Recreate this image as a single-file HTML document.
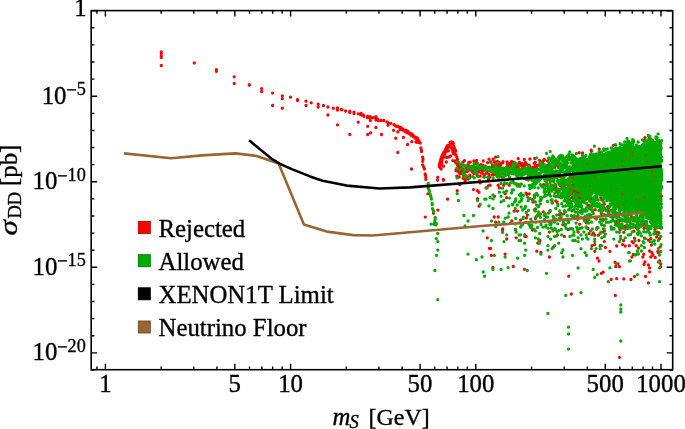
<!DOCTYPE html>
<html><head><meta charset="utf-8"><style>html,body{margin:0;padding:0;background:#fff;}svg{display:block;will-change:transform;}</style></head>
<body><svg width="685" height="429" viewBox="0 0 685 429">
<rect width="685" height="429" fill="#fff"/>
<defs><clipPath id="c"><rect x="91.2" y="10.6" width="581.5" height="359.09999999999997"/></clipPath></defs>
<g clip-path="url(#c)">
<polygon points="572.0,159.0 575.0,159.3 578.0,159.3 581.0,159.0 584.0,158.7 587.0,157.9 590.0,157.0 593.0,156.1 596.0,155.2 599.0,154.4 602.0,153.7 605.0,153.4 608.0,153.1 611.0,149.7 614.0,150.0 617.0,150.3 620.0,150.0 623.0,148.5 626.0,145.3 629.0,144.5 632.0,145.2 635.0,146.1 638.0,147.1 641.0,146.0 644.0,144.5 647.0,142.5 650.0,141.7 653.0,142.2 656.0,141.5 659.0,141.0 661.7,144.0 661.7,144.0 661.7,225.0 660.0,225.0 657.0,223.8 654.0,221.5 651.0,219.2 648.0,217.0 645.0,214.8 642.0,212.5 639.0,210.4 636.0,208.8 633.0,207.9 630.0,207.5 627.0,207.1 624.0,206.6 621.0,206.2 618.0,204.9 615.0,203.2 612.0,201.6 609.0,199.9 606.0,198.3 603.0,196.7 600.0,195.0 597.0,194.4 594.0,193.8 591.0,193.2 588.0,192.8 585.0,192.5 584.0,202.5 581.0,200.7 578.0,198.8 575.0,197.0 572.0,195.2" fill="#00aa00"/>
<path d="M443.5 180.2h0M465.0 180.9h0M479.6 180.6h0M480.2 182.9h0M457.2 190.7h0M447.6 199.2h0M473.5 189.6h0M477.5 190.7h0M479.0 192.2h0M486.0 187.9h0M488.3 185.8h0M490.1 185.2h0M498.2 185.2h0M499.4 187.9h0M503.8 185.2h0M494.5 196.3h0M477.5 198.6h0M479.0 206.2h0M505.2 193.7h0M506.6 197.7h0M494.2 217.0h0M498.2 217.0h0M495.7 222.2h0M502.7 228.9h0M459.8 184.7h0M509.3 185.2h0M487.3 237.8h0M489.5 248.4h0M502.6 230.2h0M506.7 239.0h0M516.2 237.8h0M524.9 236.4h0M526.1 236.4h0M490.6 248.4h0M491.4 255.4h0M505.1 254.1h0M513.3 266.5h0M492.9 267.5h0M524.4 269.3h0M536.8 251.2h0M540.9 252.5h0M539.9 240.5h0M537.8 243.0h0M549.4 232.1h0M557.3 234.9h0M553.2 247.2h0M549.4 257.0h0M564.4 236.4h0M578.1 232.1h0M589.1 233.5h0M593.2 232.9h0M594.7 235.2h0M598.4 235.2h0M603.1 232.1h0M604.3 230.9h0M604.3 241.6h0M592.0 245.7h0M594.7 244.6h0M600.2 245.7h0M605.4 247.5h0M594.7 251.3h0M609.9 251.3h0M597.5 258.2h0M599.0 261.1h0M601.3 273.3h0M603.1 272.2h0M568.7 276.2h0M615.0 262.3h0M615.7 266.5h0M618.0 263.8h0M619.4 266.7h0M616.7 246.0h0M623.5 240.5h0M623.8 232.3h0M622.5 244.6h0M625.2 246.0h0M629.3 245.7h0M611.2 279.5h0M616.7 278.7h0M623.8 278.9h0M571.3 294.0h0M615.3 295.4h0M633.9 231.2h0M634.5 238.2h0M632.1 241.6h0M633.3 242.8h0M636.2 245.7h0M638.9 240.5h0M638.5 248.1h0M633.3 254.5h0M631.9 257.0h0M643.8 254.2h0M642.8 257.0h0M644.4 238.2h0M648.4 240.2h0M650.8 238.7h0M651.3 245.1h0M649.6 251.0h0M651.9 252.7h0M652.9 255.0h0M650.8 257.0h0M655.2 257.4h0M656.6 237.0h0M656.0 233.3h0M657.2 232.1h0M658.9 232.9h0M659.5 238.7h0M660.1 246.9h0M657.8 251.5h0M658.3 252.7h0M644.9 262.0h0M644.0 264.4h0M648.4 264.9h0M649.6 267.9h0M649.6 271.9h0M659.5 260.9h0M660.7 263.8h0M660.7 266.7h0M634.5 276.4h0M645.5 276.4h0M631.0 279.5h0M648.4 282.9h0M619.4 357.3h0M395.0 125.6h0M396.4 126.3h0M397.8 126.3h0M399.2 127.0h0M401.3 127.7h0M402.7 129.1h0M404.8 130.1h0M406.2 130.5h0M407.6 131.2h0M409.0 132.6h0M410.4 133.3h0M411.8 134.0h0M413.2 135.4h0M414.6 136.8h0M416.0 137.5h0M417.4 138.2h0M418.1 139.6h0M418.8 141.0h0M419.5 142.4h0M417.4 142.4h0M420.2 143.1h0M420.9 148.0h0M421.3 150.1h0M421.6 151.5h0M422.6 157.1h0M423.0 159.2h0M422.7 161.3h0M422.7 164.8h0M423.7 166.9h0M424.4 169.0h0M425.1 173.8h0M425.5 175.2h0M425.8 177.3h0M425.8 179.4h0M397.8 131.9h0M395.7 138.2h0M403.4 137.5h0M407.6 144.5h0M411.8 141.7h0M397.8 152.4h0M411.5 169.0h0M437.7 177.3h0M443.3 179.4h0M455.4 150.1h0M456.1 155.0h0M456.8 157.1h0M457.5 159.2h0M458.2 162.0h0M459.6 164.8h0M458.9 168.3h0M461.0 166.2h0M463.1 162.0h0M464.5 160.6h0M462.4 170.3h0M463.8 172.4h0M465.9 167.6h0M468.0 164.8h0M469.4 166.2h0M470.1 169.7h0M472.2 171.7h0M473.6 173.1h0M475.0 170.3h0M476.4 168.3h0M479.2 166.2h0M481.3 164.8h0M482.0 168.3h0M483.4 170.3h0M484.8 166.2h0M487.6 162.7h0M489.0 159.2h0M491.0 162.0h0M492.4 164.8h0M493.1 159.2h0M494.5 162.0h0M495.9 164.8h0M495.2 168.3h0M497.3 161.3h0M498.7 166.2h0M499.4 162.7h0M486.9 171.7h0M489.0 174.5h0M458.2 177.1h0M466.6 176.6h0M470.1 177.3h0M493.8 174.5h0M428.2 187.9h0M427.9 193.8h0M433.5 213.2h0M437.9 210.1h0M425.3 217.1h0M437.5 180.2h0M450.0 142.5h0M451.4 142.0h0M452.8 142.3h0M453.3 143.4h0M451.9 143.9h0M450.5 144.3h0M447.7 145.3h0M446.8 146.7h0M446.3 148.1h0M445.4 149.5h0M444.9 150.9h0M444.0 152.2h0M443.1 153.6h0M442.6 155.0h0M441.7 156.4h0M441.2 158.3h0M440.7 159.7h0M440.3 161.1h0M439.8 163.0h0M439.3 164.8h0M439.3 166.7h0M440.3 168.1h0M441.2 169.0h0M449.1 145.3h0M448.2 147.1h0M447.2 149.0h0M446.8 150.4h0M445.9 151.8h0M444.0 156.0h0M445.4 156.9h0M446.8 157.4h0M448.2 157.2h0M449.6 156.6h0M450.5 156.0h0M446.3 162.0h0M443.5 166.2h0M452.8 160.6h0M453.8 146.2h0M454.2 147.6h0M454.7 149.0h0M455.2 150.4h0M455.6 151.3h0M454.2 152.2h0M452.8 151.8h0M453.3 153.6h0M454.4 154.1h0M561.6 158.4h0M567.4 167.4h0M591.1 150.2h0M645.0 137.7h0M444.9 153.6h0M444.0 154.8h0M443.1 157.4h0M442.1 159.4h0M441.7 163.0h0M441.0 165.0h0M448.6 150.9h0M451.6 148.1h0M452.6 149.9h0M450.0 146.9h0M441.9 161.1h0M440.4 163.0h0M405.5 131.9h0M407.6 132.9h0M409.7 134.0h0M411.5 135.4h0M413.5 136.8h0M415.3 138.2h0M416.7 139.6h0M417.7 141.0h0M418.5 142.1h0M416.0 142.1h0M400.6 129.1h0M402.7 130.1h0M161.3 51.9h0M161.3 53.3h0M161.3 56.0h0M161.3 57.4h0M161.3 65.5h0M194.3 62.9h0M216.4 69.6h0M216.4 71.3h0M234.2 76.8h0M234.2 83.5h0M249.3 84.6h0M249.3 85.2h0M261.6 88.6h0M261.6 91.5h0M272.6 93.1h0M272.6 105.4h0M282.3 95.8h0M282.3 98.7h0M282.3 108.2h0M290.5 97.2h0M297.5 99.7h0M297.5 100.4h0M306.0 101.2h0M306.0 105.5h0M311.2 102.8h0M318.2 104.1h0M318.2 107.0h0M323.5 105.5h0M327.9 107.0h0M327.9 115.0h0M333.3 108.2h0M337.5 108.0h0M337.5 110.0h0M337.5 124.8h0M341.4 109.3h0M341.9 109.8h0M345.6 111.0h0M349.8 111.2h0M349.8 112.6h0M354.0 112.1h0M354.0 113.5h0M358.2 113.8h0M361.0 113.5h0M361.0 114.9h0M363.3 114.9h0M363.8 116.3h0M367.5 116.3h0M367.5 117.7h0M370.3 116.6h0M370.3 118.2h0M373.1 117.7h0M375.9 116.6h0M375.9 118.2h0M375.9 120.0h0M377.7 119.1h0M378.2 120.5h0M381.0 120.5h0M383.8 120.5h0M387.0 121.9h0M388.0 122.8h0M390.8 123.3h0M388.0 125.2h0M358.2 122.2h0M370.3 120.5h0M367.7 126.3h0M375.9 127.5h0M349.8 134.5h0M367.7 134.5h0M370.6 132.8h0M381.5 134.5h0M393.6 130.3h0M394.0 124.7h0M400.0 129.5h0M405.0 131.5h0M410.0 134.0h0M414.0 136.5h0M417.0 139.5h0M419.0 141.0h0M398.0 126.5h0M402.0 128.5h0M462.8 170.5h0M543.3 211.8h0M587.9 164.1h0M651.5 174.8h0M459.7 173.5h0M638.9 225.6h0M555.9 186.9h0M536.6 166.9h0M476.1 163.2h0M599.8 152.4h0M458.9 171.2h0M619.0 227.0h0M519.4 162.4h0M473.7 166.9h0M599.2 149.1h0M518.3 184.6h0M650.7 182.7h0M473.9 160.9h0M564.0 164.6h0M631.5 216.7h0M632.9 227.1h0M587.3 198.4h0M564.1 186.2h0M654.8 199.0h0M558.6 195.8h0M623.9 205.5h0M629.8 221.0h0M579.7 193.4h0M638.6 173.4h0M622.4 226.5h0M481.7 170.2h0M607.6 206.7h0M560.2 158.5h0M455.5 162.3h0M640.0 207.2h0M644.4 140.2h0M648.2 161.2h0M601.3 213.6h0M559.1 191.4h0M512.1 167.0h0M591.4 151.3h0M484.0 176.8h0M526.7 179.5h0M625.3 226.2h0M561.8 180.7h0M545.1 178.0h0M516.1 167.7h0M552.5 157.6h0M561.6 165.2h0M535.7 171.2h0M582.5 209.7h0M535.2 167.3h0M607.7 199.8h0M518.0 165.0h0M587.6 182.1h0M522.5 174.2h0M547.2 184.2h0M526.4 217.9h0M565.2 184.3h0M471.7 167.8h0M575.0 165.7h0M466.9 168.5h0M638.4 227.9h0M503.2 170.2h0M480.1 176.2h0M535.5 165.5h0M619.8 189.9h0M570.6 178.7h0M633.2 152.0h0M643.4 197.0h0M507.2 162.0h0M640.4 201.5h0M587.5 206.8h0M601.4 189.3h0M580.5 211.5h0M469.8 175.2h0M494.5 167.3h0M646.3 200.9h0M572.2 178.3h0M623.9 213.3h0M627.7 207.5h0M626.4 191.6h0M568.5 155.6h0M627.6 210.2h0M579.4 198.0h0M622.0 195.4h0M577.1 194.4h0M500.6 165.3h0M503.0 171.2h0M659.7 175.6h0M593.0 205.5h0M605.9 153.6h0M543.6 160.5h0M510.3 163.4h0M620.7 148.8h0M651.4 171.5h0M610.6 215.2h0M661.4 196.2h0M534.2 195.5h0M601.4 207.0h0M459.2 166.0h0M596.4 190.6h0M535.5 209.0h0M473.9 173.5h0M530.1 167.2h0M533.0 202.0h0M531.6 178.5h0M569.8 188.2h0M540.7 178.5h0M537.2 177.6h0M510.6 166.5h0M510.3 166.9h0M457.6 165.3h0M533.1 176.7h0M616.0 223.2h0M586.7 163.4h0M658.7 184.1h0M464.1 176.1h0M624.0 156.6h0M622.3 227.7h0M659.2 204.1h0M489.3 167.3h0M654.4 148.3h0M634.2 217.6h0M611.9 187.9h0M462.6 170.3h0M608.0 198.5h0M586.5 222.9h0M459.2 176.9h0M529.9 159.0h0M584.0 164.7h0M650.6 171.9h0M552.8 180.9h0M559.0 180.7h0M497.9 163.7h0M654.2 181.1h0M641.5 184.0h0M579.1 193.5h0M635.1 199.0h0M557.4 165.3h0M507.9 168.1h0M515.5 229.4h0M621.9 149.4h0M570.9 169.1h0M608.0 153.2h0M568.3 196.5h0M618.5 206.5h0M507.8 174.7h0M517.4 211.1h0M656.0 193.6h0M564.4 180.2h0M532.5 230.0h0M589.8 206.5h0M482.3 173.2h0M576.1 176.1h0M564.9 180.4h0M537.5 215.1h0M595.3 218.0h0M482.8 170.3h0M642.6 198.2h0M608.3 208.4h0M604.5 204.1h0M570.3 206.2h0M567.4 172.8h0M486.4 167.1h0M613.4 145.3h0M638.8 203.7h0M484.3 174.8h0M508.4 167.4h0M514.3 162.3h0M511.4 165.1h0M459.4 167.0h0M588.0 228.4h0M608.4 197.0h0M650.7 222.1h0M509.3 167.2h0M625.1 221.0h0M628.4 157.7h0M566.0 182.8h0M618.5 216.6h0M479.7 168.5h0M600.8 197.8h0M584.0 218.9h0M577.5 188.5h0M589.4 205.3h0M576.0 168.7h0M546.8 179.6h0M526.0 193.2h0M477.0 175.0h0M539.1 165.2h0M623.3 165.4h0M564.5 224.8h0M455.2 160.9h0M484.3 175.5h0M591.3 202.0h0M610.2 191.6h0M619.2 206.8h0M640.2 187.7h0M603.1 220.1h0M556.8 177.7h0M577.9 191.3h0M534.2 172.3h0M617.3 172.0h0M622.2 219.2h0M578.0 206.4h0M653.9 191.7h0M556.5 164.1h0M490.5 170.8h0M455.8 162.3h0M460.3 169.9h0M559.0 174.8h0M489.8 177.1h0M574.4 189.9h0M468.2 178.9h0M564.3 188.5h0M567.9 229.5h0M629.9 213.6h0M480.7 164.7h0M608.1 215.1h0M652.9 177.3h0M648.7 216.5h0M595.2 209.7h0M481.8 167.5h0M465.8 176.0h0M630.4 226.9h0M651.7 219.4h0M614.5 192.0h0M631.7 213.8h0M575.0 191.7h0M601.7 199.9h0M653.3 175.0h0M531.6 168.4h0M498.1 176.8h0M467.4 168.3h0M553.7 185.5h0M620.6 148.4h0M594.5 200.5h0M644.3 223.9h0M654.8 142.1h0M540.8 200.0h0M511.2 165.4h0M477.9 167.1h0M472.7 171.0h0M494.6 173.4h0M518.2 158.7h0M478.8 171.9h0M522.9 172.7h0M486.6 173.0h0M623.7 201.5h0M499.4 174.1h0M481.8 173.2h0M479.5 169.6h0M626.6 150.9h0M564.3 176.6h0M573.9 188.3h0M532.9 171.0h0M599.2 189.7h0M623.1 170.0h0M484.3 166.3h0M511.8 220.8h0M588.0 195.9h0M590.5 185.7h0M616.5 190.5h0M519.0 170.1h0M466.3 167.5h0M570.3 176.8h0M555.1 184.3h0M476.7 160.5h0M476.9 173.1h0M514.3 169.3h0M658.4 207.5h0M618.8 170.2h0M477.1 168.5h0M456.7 163.5h0M660.3 182.4h0M649.1 205.1h0M512.5 166.6h0M648.4 145.3h0M524.6 164.3h0M552.1 188.2h0M568.2 179.0h0M539.9 164.7h0M563.5 213.9h0M620.5 227.5h0M457.3 162.0h0M617.0 195.2h0M570.6 180.5h0M567.9 184.3h0M512.7 162.5h0M648.9 226.3h0M636.1 227.4h0M574.0 196.4h0M597.9 179.2h0M554.8 167.2h0M570.0 181.5h0M588.1 205.5h0M599.9 158.6h0M652.6 177.8h0M560.6 185.9h0M509.4 177.4h0M588.6 181.0h0M553.4 189.1h0M482.6 170.1h0M570.0 228.9h0M464.8 172.1h0M528.7 174.4h0M570.4 190.3h0M493.6 172.2h0M648.9 216.9h0M635.8 176.8h0M632.4 166.1h0M597.0 227.7h0M605.1 179.5h0M547.4 160.8h0M532.5 171.5h0M627.5 228.3h0M604.0 204.1h0M523.0 164.4h0M621.7 184.9h0M458.3 168.9h0M556.9 191.9h0M462.9 168.9h0M638.6 167.0h0M534.7 158.5h0M638.5 220.7h0M637.7 172.7h0M650.8 190.8h0M653.4 162.7h0M617.7 190.3h0M644.0 228.3h0M522.7 167.7h0M561.1 181.6h0M646.0 181.6h0M582.6 153.0h0M606.4 165.9h0M577.1 216.7h0M534.8 172.1h0M543.6 184.7h0M503.1 161.6h0M521.1 165.4h0M630.8 159.5h0M620.2 220.9h0M572.3 197.5h0M457.5 164.2h0M624.2 205.5h0M635.3 147.9h0M573.5 192.7h0M560.6 213.2h0M535.5 176.3h0M458.6 169.9h0M522.4 224.4h0M557.3 189.5h0M643.3 154.7h0M526.8 164.3h0M566.7 188.7h0M514.1 211.1h0M528.3 169.0h0M475.6 163.4h0M651.8 215.8h0M487.8 167.9h0M586.8 220.5h0M574.7 187.4h0M507.4 164.5h0M659.0 168.0h0M577.3 187.6h0M516.6 165.3h0M647.8 159.5h0M468.8 162.4h0M554.0 188.9h0M511.6 161.5h0M645.4 156.4h0M496.3 173.8h0M614.9 216.2h0M583.2 201.2h0M469.6 168.4h0M529.2 193.8h0M616.1 221.1h0M642.0 181.5h0M521.1 164.7h0M630.5 199.1h0M457.5 171.0h0M501.8 177.1h0M465.5 179.6h0M574.7 199.3h0M613.5 173.8h0M618.8 158.9h0M590.2 181.6h0M477.4 170.6h0M529.2 165.2h0M571.9 210.8h0M571.5 167.9h0M557.3 175.0h0M617.9 196.4h0M533.4 167.5h0M579.2 152.7h0M488.5 179.0h0M461.5 173.7h0M553.6 221.1h0M468.4 177.8h0M512.0 163.6h0M520.6 220.1h0M531.7 174.3h0M535.3 162.5h0M634.3 191.1h0M482.7 165.1h0M549.1 193.0h0M562.1 186.5h0M537.4 165.5h0M488.9 176.6h0M570.2 202.4h0M605.3 186.0h0M584.3 193.4h0M571.2 175.8h0M527.4 215.1h0M538.0 176.4h0M468.0 170.5h0M559.7 156.7h0M628.2 213.2h0M549.6 178.2h0M631.8 191.8h0M551.3 159.3h0M525.4 162.5h0M569.4 198.9h0M648.4 226.9h0M470.3 162.1h0M632.4 159.2h0M657.8 167.1h0M648.4 216.0h0M632.3 173.2h0M602.4 180.4h0M523.2 168.2h0M641.8 205.8h0M528.1 171.9h0M463.1 178.3h0M607.0 187.2h0M551.1 166.4h0M557.2 196.2h0M594.2 189.2h0M547.7 165.2h0M608.9 192.1h0M576.5 205.4h0M512.7 163.3h0M536.0 170.0h0M491.6 167.9h0M569.8 178.8h0M606.7 167.3h0M508.1 174.4h0M553.8 219.3h0M637.9 223.3h0M567.1 195.7h0M522.0 163.4h0M633.2 156.7h0M660.6 213.7h0M526.0 222.3h0M574.8 174.3h0M483.4 170.5h0M641.4 224.0h0M621.9 169.6h0M630.5 201.1h0M460.4 172.2h0M563.0 180.4h0M504.2 173.4h0M539.8 165.1h0M502.8 162.8h0M641.1 224.3h0M568.0 195.3h0M549.5 174.4h0M542.6 162.5h0M514.8 164.1h0M606.0 158.0h0M605.1 161.7h0M492.4 166.0h0M523.9 167.0h0M608.7 211.5h0M571.6 180.1h0M473.0 168.4h0M527.0 194.4h0M517.4 171.9h0M573.7 198.2h0M555.8 200.9h0M654.1 220.0h0M658.7 147.0h0M646.4 185.2h0M585.2 173.0h0M642.9 225.2h0M573.1 177.1h0M603.0 210.2h0M494.9 170.6h0M645.0 227.8h0M589.2 208.4h0M514.0 163.5h0M584.6 157.3h0M475.6 168.1h0M501.0 163.4h0M620.0 229.7h0M627.1 226.8h0M613.7 228.3h0M636.8 193.1h0M624.3 227.9h0M579.6 224.2h0M552.2 202.4h0M566.1 188.1h0M590.8 198.5h0M517.5 164.5h0M637.5 158.6h0M603.4 219.5h0M580.4 180.6h0M495.6 157.1h0M649.2 138.2h0M622.5 161.7h0M544.3 159.5h0M482.9 165.2h0M634.8 194.2h0M595.0 197.9h0M549.8 176.9h0M627.7 199.9h0M595.3 176.3h0M651.4 144.6h0M616.3 180.1h0M559.2 214.6h0M593.0 171.3h0M648.9 212.6h0M584.2 217.6h0M532.4 199.6h0M562.6 183.8h0M550.2 210.7h0M541.6 162.0h0M562.5 176.4h0M625.4 209.9h0M561.4 169.8h0M455.9 170.5h0M573.2 157.5h0M495.1 166.0h0M553.3 157.2h0M518.5 168.0h0M574.3 174.8h0M551.0 169.1h0M633.4 141.0h0M659.3 156.7h0M467.3 171.5h0M456.9 176.2h0M517.9 174.5h0M508.0 164.0h0M538.2 206.0h0M576.6 183.4h0M511.8 165.0h0M546.3 216.8h0M660.3 141.8h0M492.4 174.7h0M534.2 163.2h0M617.8 203.6h0M535.4 218.4h0M549.7 180.3h0M524.2 166.5h0M572.3 185.1h0M601.7 224.8h0M560.9 217.6h0M557.0 202.0h0M619.9 170.1h0M538.1 176.0h0M641.3 199.5h0M562.9 224.7h0M524.3 159.4h0M558.9 158.0h0M625.9 210.0h0M483.2 160.9h0M510.6 164.3h0M528.6 179.5h0M654.9 229.4h0M545.4 166.9h0M631.0 145.5h0M559.8 176.6h0M533.9 168.2h0M549.5 222.0h0M660.7 227.9h0M571.2 204.3h0M539.5 160.3h0M470.7 168.7h0M558.5 191.9h0M531.7 174.4h0" stroke="#ff0000" stroke-width="3.3" stroke-linecap="round" fill="none"/>
<path d="M457.2 193.7h0M458.4 200.4h0M477.5 200.4h0M480.2 204.5h0M484.8 199.2h0M486.0 199.2h0M487.2 187.9h0M490.1 197.5h0M493.0 194.9h0M493.0 198.9h0M488.9 205.9h0M493.0 208.5h0M463.9 215.5h0M473.5 215.5h0M468.0 221.0h0M491.5 221.0h0M498.8 222.2h0M503.8 222.2h0M505.2 218.2h0M508.1 217.0h0M509.0 213.2h0M508.7 205.9h0M495.7 226.6h0M465.0 226.0h0M501.1 183.5h0M504.6 182.9h0M507.0 183.5h0M502.5 188.2h0M499.4 192.2h0M501.1 196.3h0M503.8 192.2h0M506.6 191.1h0M501.1 201.9h0M503.8 200.4h0M509.5 198.1h0M437.7 233.5h0M436.3 238.7h0M437.8 241.6h0M437.8 250.1h0M436.5 255.4h0M434.9 270.5h0M468.0 254.1h0M476.4 259.7h0M482.0 257.0h0M483.1 230.9h0M483.2 271.9h0M484.6 276.2h0M437.7 299.6h0M502.6 232.3h0M506.7 234.9h0M491.4 240.5h0M504.0 241.6h0M516.2 232.1h0M519.1 234.9h0M520.5 234.9h0M519.1 240.5h0M520.5 240.5h0M524.6 234.7h0M524.6 243.2h0M525.8 250.1h0M524.6 255.4h0M517.6 258.2h0M494.4 255.4h0M505.1 257.0h0M492.9 269.4h0M501.1 269.4h0M508.1 267.6h0M527.3 270.5h0M535.4 230.9h0M539.7 233.5h0M535.4 237.8h0M538.3 239.0h0M539.5 243.2h0M540.9 254.2h0M547.9 236.4h0M550.6 239.1h0M554.6 236.4h0M556.4 236.1h0M547.9 245.7h0M547.9 250.1h0M552.1 248.6h0M554.6 245.7h0M558.7 243.2h0M546.5 273.3h0M552.9 230.9h0M557.0 231.7h0M558.7 230.6h0M547.9 313.4h0M561.7 234.9h0M574.0 232.1h0M569.9 236.4h0M572.8 235.2h0M574.0 235.2h0M581.0 234.9h0M578.1 237.8h0M572.8 240.5h0M575.1 240.5h0M578.1 241.6h0M582.4 239.1h0M583.9 232.1h0M586.2 234.9h0M586.6 237.8h0M588.0 239.1h0M590.5 230.9h0M592.0 234.9h0M594.7 239.1h0M594.7 241.6h0M600.8 232.1h0M600.2 233.5h0M601.7 237.8h0M604.3 236.4h0M605.4 234.1h0M591.4 248.6h0M596.1 248.6h0M600.2 248.6h0M601.6 245.7h0M581.0 248.6h0M562.9 250.0h0M561.7 252.7h0M562.9 257.0h0M572.6 255.4h0M585.0 252.7h0M586.6 255.4h0M578.1 267.9h0M593.2 269.4h0M597.3 274.6h0M594.7 277.4h0M609.9 267.9h0M616.7 263.8h0M613.8 239.1h0M616.7 232.1h0M619.4 232.3h0M620.6 236.4h0M620.6 239.1h0M619.4 241.6h0M625.2 237.8h0M628.1 234.9h0M629.3 234.9h0M628.7 252.7h0M629.3 261.1h0M565.8 295.4h0M581.0 292.6h0M608.3 281.7h0M620.8 305.0h0M620.8 309.1h0M620.8 312.0h0M568.5 327.2h0M630.4 260.9h0M629.2 252.7h0M635.0 255.0h0M636.2 254.5h0M637.4 251.0h0M638.5 253.9h0M641.4 251.0h0M641.4 245.7h0M644.4 247.5h0M643.2 241.6h0M643.8 242.8h0M635.0 240.5h0M638.0 234.7h0M637.4 233.3h0M639.1 231.7h0M641.4 235.8h0M640.3 232.9h0M643.8 231.7h0M646.1 232.1h0M648.4 231.2h0M650.2 235.2h0M649.6 232.9h0M645.5 238.7h0M650.2 241.6h0M651.9 242.2h0M654.3 240.5h0M654.8 244.0h0M653.7 234.1h0M654.8 231.7h0M657.8 234.7h0M660.7 236.4h0M661.2 244.6h0M658.3 240.5h0M658.3 248.6h0M660.7 251.5h0M659.5 255.0h0M658.3 262.0h0M659.5 267.9h0M637.4 274.6h0M630.4 234.7h0M632.1 232.1h0M659.5 281.7h0M568.5 334.0h0M568.5 349.1h0M620.8 341.0h0M457.5 162.0h0M460.3 164.8h0M462.4 164.8h0M464.5 165.5h0M466.6 166.2h0M468.7 167.6h0M470.8 166.2h0M473.6 166.2h0M475.7 166.9h0M477.8 166.2h0M479.9 167.6h0M482.0 166.2h0M484.8 168.3h0M487.6 167.6h0M490.3 168.3h0M492.4 169.0h0M495.2 170.3h0M497.3 169.7h0M499.4 168.3h0M462.4 168.3h0M464.5 170.3h0M463.1 173.1h0M464.5 175.2h0M468.0 169.7h0M471.5 168.3h0M474.3 169.0h0M476.4 170.3h0M479.2 169.0h0M483.4 169.0h0M486.2 169.7h0M489.0 171.0h0M491.7 171.7h0M494.5 172.4h0M497.3 172.4h0M472.9 176.6h0M477.8 176.6h0M498.0 156.6h0M490.3 162.0h0M495.2 166.2h0M484.1 177.3h0M487.6 177.3h0M493.1 178.0h0M498.7 177.3h0M428.2 183.5h0M428.8 189.3h0M429.4 191.1h0M430.0 194.0h0M430.5 195.7h0M431.1 197.5h0M431.4 199.2h0M432.1 203.3h0M432.3 204.5h0M432.5 208.6h0M433.2 210.3h0M433.7 211.5h0M435.2 217.3h0M435.2 219.0h0M434.9 220.8h0M434.6 222.5h0M431.1 224.1h0M434.0 224.3h0M435.8 224.9h0M436.4 223.7h0M594.3 146.2h0M627.0 138.3h0M633.1 139.9h0M648.3 135.5h0M658.1 133.9h0M569.8 151.9h0M576.4 153.5h0M566.5 163.4h0M537.5 227.5h0M596.5 169.9h0M637.1 157.9h0M626.0 154.9h0M536.3 216.5h0M634.7 154.2h0M542.1 163.8h0M598.6 179.1h0M661.6 173.9h0M627.4 142.0h0M660.5 225.3h0M642.3 213.2h0M611.0 175.2h0M643.2 209.7h0M658.9 194.0h0M656.9 193.2h0M644.3 162.1h0M605.8 183.4h0M570.5 207.3h0M615.6 178.3h0M644.8 171.5h0M561.5 197.7h0M637.3 223.9h0M651.2 213.2h0M638.6 226.6h0M628.1 142.0h0M521.3 200.8h0M646.2 184.9h0M647.7 153.1h0M613.0 155.4h0M607.5 182.9h0M602.0 191.8h0M636.1 195.4h0M516.0 173.2h0M657.3 182.4h0M553.7 177.8h0M576.8 180.6h0M605.6 192.5h0M640.5 190.9h0M628.9 183.6h0M596.6 176.4h0M610.6 177.8h0M534.6 175.3h0M583.3 192.5h0M595.5 155.5h0M651.7 147.1h0M515.3 164.1h0M577.5 162.9h0M607.3 172.3h0M591.4 156.6h0M639.5 203.7h0M506.7 167.0h0M650.8 200.8h0M550.1 182.9h0M589.3 156.9h0M620.8 202.6h0M501.5 168.8h0M485.4 166.3h0M648.8 159.6h0M593.2 164.8h0M626.0 170.4h0M530.8 219.2h0M641.9 160.6h0M581.3 159.4h0M660.5 152.8h0M503.7 168.8h0M575.3 159.3h0M620.4 182.5h0M599.6 168.0h0M653.3 157.8h0M532.1 178.0h0M563.4 222.2h0M627.5 144.2h0M562.7 165.3h0M605.8 219.2h0M579.7 182.8h0M542.4 186.2h0M547.9 171.0h0M613.8 206.9h0M596.4 219.0h0M659.7 186.5h0M584.8 174.9h0M636.2 207.1h0M572.0 161.8h0M649.9 202.0h0M650.7 139.9h0M630.6 203.2h0M619.0 179.9h0M651.5 203.3h0M643.8 191.2h0M605.7 184.9h0M626.6 191.3h0M632.1 189.9h0M601.6 181.5h0M600.5 177.3h0M529.0 167.1h0M503.6 173.4h0M611.6 192.9h0M592.7 202.9h0M615.9 185.8h0M639.1 150.0h0M659.6 208.5h0M580.6 167.5h0M588.4 172.7h0M603.3 191.1h0M549.7 190.3h0M648.5 144.2h0M650.6 179.5h0M567.5 200.3h0M627.4 179.8h0M536.6 205.1h0M623.4 191.6h0M624.8 174.2h0M517.8 175.4h0M643.1 208.1h0M638.6 183.3h0M567.2 215.6h0M629.8 164.4h0M555.8 219.2h0M531.2 174.8h0M498.8 170.7h0M539.0 177.9h0M639.2 182.3h0M646.7 188.9h0M644.2 189.2h0M599.9 187.6h0M593.7 173.1h0M517.8 169.3h0M588.5 223.1h0M659.0 174.9h0M585.8 199.5h0M634.1 176.1h0M651.5 207.4h0M601.3 211.9h0M658.3 212.3h0M623.0 154.7h0M570.2 208.7h0M648.8 149.6h0M619.7 173.3h0M615.6 149.5h0M639.1 179.8h0M586.6 207.7h0M661.0 215.9h0M652.0 220.5h0M654.5 152.0h0M653.9 195.3h0M661.3 148.3h0M618.6 199.5h0M635.3 218.3h0M630.2 191.0h0M626.2 175.1h0M603.5 183.1h0M510.4 168.2h0M629.6 160.1h0M641.2 195.2h0M581.6 177.0h0M539.9 200.8h0M628.0 163.5h0M563.1 171.8h0M656.2 148.5h0M578.1 215.4h0M506.9 169.3h0M653.9 178.9h0M629.7 189.0h0M570.8 176.6h0M602.4 221.0h0M636.5 188.8h0M536.3 183.3h0M618.7 214.2h0M629.3 225.7h0M562.6 196.9h0M595.7 180.2h0M658.5 211.7h0M661.0 218.3h0M586.1 188.3h0M558.6 183.1h0M615.3 158.9h0M576.1 161.6h0M624.7 156.9h0M619.9 150.6h0M515.5 184.0h0M626.8 161.9h0M652.8 178.0h0M577.2 163.6h0M591.8 184.6h0M632.0 158.7h0M571.9 163.0h0M604.1 154.6h0M593.0 161.9h0M629.6 184.9h0M616.5 155.1h0M599.5 166.3h0M585.6 172.5h0M622.6 152.4h0M529.4 168.2h0M569.0 204.9h0M579.5 173.4h0M661.4 203.8h0M658.9 184.2h0M646.3 192.7h0M616.1 213.2h0M627.7 202.9h0M626.7 158.6h0M517.3 186.0h0M562.0 169.2h0M583.9 210.2h0M653.2 175.5h0M596.2 172.0h0M634.3 151.6h0M634.6 182.8h0M627.7 166.2h0M572.1 206.4h0M647.5 195.9h0M625.2 196.3h0M575.5 160.0h0M616.1 191.5h0M650.2 196.5h0M608.8 178.4h0M569.6 167.6h0M549.3 171.8h0M646.6 186.3h0M655.3 188.1h0M637.1 160.8h0M647.0 147.3h0M590.0 167.6h0M508.5 173.7h0M572.3 228.7h0M605.6 159.6h0M570.4 194.0h0M609.1 152.1h0M658.3 172.6h0M650.7 138.8h0M591.3 206.3h0M559.4 183.3h0M646.7 142.0h0M558.8 191.8h0M538.6 215.7h0M635.8 153.1h0M579.3 172.6h0M619.8 197.4h0M656.2 217.7h0M560.8 167.9h0M590.8 182.1h0M659.3 216.8h0M582.1 164.6h0M618.1 220.4h0M520.6 227.0h0M632.5 178.6h0M609.6 164.8h0M605.1 179.8h0M565.0 180.0h0M626.0 173.3h0M641.0 216.1h0M628.1 210.9h0M596.5 163.5h0M587.3 215.2h0M623.7 162.0h0M603.1 164.1h0M533.9 180.2h0M578.3 173.6h0M626.5 195.4h0M611.7 184.3h0M602.9 175.7h0M624.9 216.6h0M660.6 153.8h0M566.7 164.2h0M572.5 159.0h0M547.5 217.2h0M652.8 168.5h0M628.9 155.8h0M521.3 183.9h0M544.4 196.3h0M579.3 181.8h0M524.3 172.2h0M575.2 162.1h0M636.7 175.4h0M558.2 181.3h0M560.4 163.5h0M559.4 218.5h0M515.7 218.5h0M618.1 199.6h0M579.6 228.2h0M598.9 210.5h0M551.1 221.7h0M540.7 167.7h0M607.6 196.3h0M643.9 203.9h0M655.9 195.6h0M618.2 216.4h0M565.6 224.3h0M626.8 167.7h0M628.9 160.7h0M592.5 209.7h0M654.2 163.0h0M634.3 179.0h0M640.9 195.0h0M592.5 191.4h0M530.7 227.5h0M597.2 183.5h0M653.2 218.6h0M598.7 154.1h0M626.8 208.3h0M655.1 144.7h0M612.5 174.4h0M611.5 153.9h0M611.8 196.2h0M598.9 206.3h0M609.4 160.9h0M636.3 180.8h0M632.2 195.1h0M619.0 213.0h0M590.0 217.3h0M529.8 198.4h0M585.9 160.7h0M623.2 181.4h0M605.7 186.4h0M597.0 199.4h0M608.1 179.2h0M634.6 200.8h0M644.6 208.4h0M639.9 181.1h0M496.6 172.9h0M602.1 171.2h0M595.0 199.9h0M598.9 174.5h0M648.6 148.1h0M657.4 199.5h0M658.1 182.3h0M579.5 179.6h0M629.1 200.3h0M626.7 157.9h0M565.4 193.2h0M660.9 143.5h0M655.6 192.5h0M547.5 201.5h0M526.2 212.4h0M618.9 151.4h0M620.6 155.0h0M553.1 216.3h0M629.0 149.7h0M651.3 180.1h0M634.9 147.3h0M647.2 173.4h0M549.2 158.4h0M590.8 179.0h0M609.0 181.4h0M580.8 193.4h0M652.3 149.5h0M654.9 158.8h0M656.1 216.4h0M655.2 145.2h0M599.0 151.8h0M564.0 196.1h0M584.8 174.5h0M602.5 193.0h0M618.4 149.5h0M642.2 149.4h0M539.5 169.2h0M651.0 185.6h0M628.8 192.4h0M656.0 145.6h0M649.4 226.8h0M563.6 158.6h0M606.6 160.9h0M648.2 183.8h0M599.1 165.4h0M620.8 209.2h0M622.2 208.1h0M593.0 184.3h0M508.8 169.5h0M642.6 146.5h0M620.2 157.5h0M648.8 217.1h0M603.2 205.9h0M659.1 220.5h0M583.8 156.5h0M615.3 170.9h0M628.3 142.8h0M657.1 137.3h0M640.5 219.9h0M603.9 202.1h0M609.9 160.9h0M612.0 210.4h0M650.2 203.1h0M568.9 172.8h0M617.7 216.3h0M653.4 157.5h0M627.5 179.4h0M638.1 194.9h0M619.1 162.4h0M661.4 170.5h0M648.4 146.2h0M649.0 183.8h0M622.1 169.5h0M512.4 169.1h0M603.1 199.6h0M620.7 196.2h0M614.4 150.7h0M520.7 178.0h0M651.5 174.5h0M656.1 167.4h0M631.7 201.5h0M646.4 167.2h0M652.5 140.3h0M619.5 187.0h0M651.5 182.7h0M522.2 175.4h0M641.2 161.7h0M587.9 175.1h0M581.7 207.5h0M636.6 204.1h0M602.3 191.2h0M658.6 170.6h0M534.7 197.5h0M618.5 179.1h0M653.7 222.5h0M633.4 176.3h0M606.9 193.1h0M652.6 174.6h0M567.5 202.7h0M632.1 218.8h0M559.0 160.3h0M645.1 209.6h0M655.1 221.9h0M570.3 167.5h0M552.8 176.8h0M656.1 165.4h0M594.3 162.8h0M629.1 195.3h0M520.1 184.7h0M627.7 228.0h0M606.0 182.9h0M577.4 209.1h0M574.5 183.8h0M554.3 165.7h0M628.6 172.5h0M590.0 169.5h0M649.8 150.7h0M631.3 193.0h0M604.1 178.6h0M545.1 194.4h0M661.7 160.2h0M661.0 221.6h0M603.8 209.1h0M605.4 161.5h0M634.9 191.9h0M555.5 160.4h0M647.5 178.6h0M549.0 162.6h0M612.0 202.0h0M618.2 193.7h0M599.2 153.6h0M622.3 149.1h0M620.5 202.4h0M546.4 169.2h0M615.7 164.3h0M546.4 166.7h0M595.3 189.2h0M632.9 220.5h0M574.5 158.8h0M589.0 188.2h0M620.7 210.1h0M554.7 228.6h0M531.7 170.4h0M637.5 162.6h0M572.2 154.8h0M591.6 180.9h0M630.8 160.6h0M593.3 171.9h0M654.8 196.6h0M555.5 189.7h0M596.2 182.3h0M611.6 163.2h0M626.0 193.5h0M657.2 201.4h0M607.3 148.9h0M539.5 180.1h0M528.5 210.3h0M587.2 175.7h0M500.3 170.9h0M635.2 165.7h0M553.8 181.5h0M648.4 145.9h0M573.5 181.5h0M574.1 193.1h0M569.5 202.0h0M517.4 173.5h0M536.6 157.8h0M561.5 171.3h0M627.8 175.0h0M640.4 167.8h0M551.0 185.4h0M603.2 201.5h0M591.6 194.1h0M568.5 209.9h0M534.7 170.7h0M650.2 219.2h0M576.9 199.6h0M599.3 186.7h0M621.6 177.1h0M661.0 224.0h0M623.4 183.6h0M551.2 199.9h0M536.3 169.6h0M609.0 193.3h0M553.9 157.8h0M634.2 164.4h0M602.6 186.1h0M660.8 218.1h0M623.4 198.0h0M616.8 171.8h0M583.9 209.9h0M620.0 191.3h0M589.3 178.1h0M655.9 212.9h0M626.8 219.0h0M613.3 189.7h0M572.7 229.2h0M584.6 175.2h0M601.6 224.4h0M589.8 209.0h0M565.0 188.6h0M629.9 166.7h0M625.7 211.2h0M623.6 149.1h0M628.5 221.7h0M633.8 218.4h0M616.9 205.5h0M624.6 141.8h0M638.0 142.0h0M565.6 198.4h0M650.4 172.2h0M640.6 164.5h0M643.4 222.3h0M631.3 211.0h0M552.4 168.2h0M658.4 148.2h0M562.9 186.2h0M577.9 182.0h0M593.8 197.4h0M625.6 156.7h0M622.8 187.6h0M657.5 195.6h0M604.5 156.7h0M500.4 174.5h0M579.4 201.5h0M652.5 225.4h0M544.5 219.3h0M642.1 153.6h0M575.3 171.8h0M616.0 201.0h0M619.6 184.0h0M647.5 218.1h0M628.5 161.8h0M656.0 218.6h0M616.0 203.7h0M618.0 200.9h0M540.4 203.8h0M633.7 196.1h0M651.9 225.5h0M606.3 188.6h0M647.1 153.4h0M641.7 194.8h0M541.0 224.4h0M630.0 201.8h0M557.5 176.6h0M637.2 169.1h0M640.1 178.7h0M589.8 193.9h0M612.4 185.1h0M542.6 170.4h0M536.4 169.8h0M605.1 166.5h0M650.3 155.0h0M629.0 150.3h0M620.7 174.3h0M659.9 200.1h0M649.0 189.7h0M648.2 201.7h0M653.0 159.4h0M539.0 174.9h0M564.3 196.6h0M602.8 170.5h0M569.4 159.3h0M626.0 186.5h0M596.8 154.6h0M582.4 161.7h0M648.6 151.0h0M591.7 178.6h0M641.0 174.2h0M620.2 167.9h0M569.7 183.0h0M637.0 158.8h0M613.4 197.8h0M638.6 162.1h0M634.2 204.8h0M565.0 183.2h0M565.5 205.9h0M642.4 203.5h0M596.5 156.9h0M597.4 172.3h0M565.1 225.8h0M573.6 158.8h0M629.4 183.7h0M571.7 187.7h0M598.3 200.0h0M551.9 189.7h0M652.0 217.1h0M599.9 161.6h0M647.7 180.9h0M659.1 201.7h0M646.8 171.1h0M578.0 170.0h0M520.7 174.9h0M594.3 163.9h0M612.7 174.6h0M581.8 169.4h0M570.8 159.5h0M650.3 170.8h0M648.4 195.3h0M581.8 209.9h0M536.2 180.0h0M627.8 195.7h0M642.8 210.5h0M627.5 179.2h0M647.8 226.2h0M525.0 168.4h0M608.3 185.2h0M607.1 189.7h0M626.8 190.0h0M644.2 185.6h0M618.4 163.5h0M608.6 176.8h0M642.3 173.0h0M559.2 183.9h0M574.4 195.7h0M578.0 180.6h0M572.7 188.1h0M537.3 169.4h0M660.4 205.8h0M621.4 152.7h0M656.8 154.5h0M655.9 171.1h0M610.0 164.2h0M646.0 163.7h0M603.2 208.3h0M640.4 175.2h0M574.4 215.6h0M605.5 178.4h0M653.4 187.4h0M550.7 174.4h0M656.2 218.3h0M562.3 181.6h0M657.3 152.5h0M576.1 158.7h0M586.0 155.3h0M614.1 177.5h0M633.1 196.3h0M646.0 174.2h0M584.7 178.5h0M643.2 182.2h0M647.3 215.8h0M602.6 173.3h0M603.7 149.0h0M615.6 157.1h0M635.9 206.6h0M584.1 175.6h0M632.1 184.7h0M590.4 188.5h0M628.5 182.0h0M637.1 197.0h0M656.8 154.0h0M630.8 214.9h0M589.4 165.8h0M617.0 193.0h0M585.8 195.2h0M652.6 162.7h0M565.8 191.2h0M654.1 154.1h0M542.0 167.2h0M653.2 145.0h0M528.1 200.7h0M602.3 155.6h0M604.5 193.5h0M596.9 185.7h0M595.5 170.0h0M616.0 215.7h0M636.7 189.7h0M569.0 153.9h0M570.4 159.2h0M638.6 185.9h0M629.9 164.7h0M592.3 179.8h0M556.7 215.1h0M598.5 189.8h0M641.0 211.6h0M656.5 224.7h0M638.5 148.6h0M595.9 168.1h0M652.3 178.3h0M540.7 197.5h0M648.1 204.9h0M606.2 172.1h0M536.5 169.1h0M601.9 163.0h0M632.1 179.3h0M644.2 188.8h0M601.4 210.1h0M653.7 146.1h0M641.1 184.3h0M631.2 178.3h0M599.8 167.6h0M586.4 182.3h0M649.0 191.2h0M558.0 195.4h0M625.3 217.9h0M633.9 217.6h0M598.2 178.6h0M497.8 174.1h0M602.8 158.4h0M628.2 207.7h0M464.3 172.2h0M620.3 158.1h0M519.5 169.3h0M638.5 197.4h0M537.6 172.9h0M640.2 154.6h0M661.4 156.9h0M617.1 179.1h0M612.1 181.0h0M575.5 173.3h0M607.7 164.0h0M622.2 158.6h0M590.8 168.2h0M534.3 209.6h0M605.4 178.2h0M632.0 198.8h0M614.0 200.5h0M629.4 219.2h0M617.5 165.7h0M581.7 193.6h0M606.1 195.0h0M650.3 161.0h0M500.7 169.0h0M595.7 167.5h0M654.8 206.7h0M545.8 180.3h0M624.0 202.3h0M654.8 195.6h0M525.5 169.1h0M653.8 180.2h0M619.2 176.0h0M659.0 164.9h0M587.5 222.2h0M528.2 179.9h0M620.3 176.7h0M653.8 222.7h0M607.9 185.4h0M658.4 146.7h0M585.7 187.5h0M652.4 188.8h0M609.6 172.4h0M637.2 189.9h0M545.8 172.4h0M616.9 217.9h0M597.5 206.5h0M604.6 158.7h0M591.4 178.4h0M573.2 200.4h0M608.1 165.1h0M531.8 180.2h0M536.6 193.5h0M577.1 173.2h0M598.1 179.4h0M626.6 171.8h0M599.0 190.8h0M648.8 154.7h0M656.1 227.6h0M638.8 217.9h0M656.5 163.3h0M543.9 171.5h0M656.9 204.3h0M564.6 162.3h0M519.0 222.9h0M618.0 195.7h0M613.3 175.2h0M557.8 174.9h0M568.4 222.5h0M530.7 176.4h0M608.9 156.6h0M617.7 176.8h0M641.3 180.1h0M530.5 169.1h0M540.7 214.0h0M619.4 183.7h0M614.0 216.8h0M632.2 192.4h0M529.3 185.4h0M608.9 162.9h0M630.3 182.9h0M569.1 220.2h0M641.3 187.6h0M644.2 204.1h0M561.3 193.9h0M629.1 156.6h0M655.5 161.2h0M575.3 206.2h0M619.6 166.4h0M550.7 224.8h0M517.7 176.2h0M609.8 152.6h0M604.9 176.8h0M625.3 151.6h0M623.9 172.0h0M584.5 221.0h0M637.2 159.0h0M598.7 170.6h0M657.3 153.4h0M651.3 222.7h0M606.4 193.8h0M607.7 170.0h0M651.8 195.0h0M629.9 203.5h0M660.0 222.2h0M659.3 209.1h0M650.2 198.1h0M601.4 163.4h0M585.4 182.7h0M627.4 204.8h0M598.8 173.4h0M614.1 198.6h0M652.4 150.7h0M639.0 207.1h0M642.0 147.8h0M568.5 196.8h0M640.4 195.4h0M570.2 182.2h0M638.7 158.5h0M637.7 187.9h0M645.0 141.9h0M623.2 151.9h0M566.0 228.2h0M513.5 163.3h0M616.6 175.4h0M624.9 170.6h0M565.3 161.3h0M628.0 192.2h0M613.7 180.4h0M643.4 195.5h0M627.8 187.4h0M552.4 171.4h0M553.4 185.2h0M622.9 153.9h0M566.0 161.9h0M628.5 193.6h0M560.1 196.7h0M564.1 200.9h0M610.6 216.6h0M552.1 200.1h0M505.1 171.2h0M560.6 155.5h0M593.5 191.4h0M646.2 164.5h0M557.5 176.5h0M627.6 149.6h0M540.1 174.3h0M611.3 158.2h0M641.4 192.8h0M627.9 183.5h0M600.0 165.9h0M615.0 180.1h0M633.7 167.8h0M615.0 173.5h0M610.8 178.9h0M660.3 184.6h0M616.1 151.7h0M578.9 206.4h0M531.5 186.9h0M607.3 189.5h0M613.1 196.4h0M661.6 161.2h0M649.4 163.9h0M613.3 170.9h0M613.6 170.5h0M542.7 170.9h0M628.4 221.7h0M573.7 156.0h0M551.8 185.9h0M581.5 206.0h0M569.4 170.6h0M615.8 149.5h0M566.8 161.9h0M638.5 155.0h0M578.9 160.4h0M625.3 216.1h0M645.9 147.4h0M641.4 209.3h0M596.1 155.0h0M573.7 158.0h0M648.9 227.0h0M502.1 172.4h0M535.7 217.1h0M572.5 160.5h0M596.5 195.9h0M516.9 164.0h0M564.5 182.7h0M624.3 179.9h0M549.0 190.5h0M640.0 186.6h0M559.6 210.9h0M596.1 170.6h0M576.8 194.9h0M624.4 183.2h0M541.5 169.8h0M555.0 185.2h0M640.1 199.1h0M537.1 175.5h0M636.7 194.8h0M635.0 195.0h0M560.6 158.8h0M628.5 209.7h0M593.7 171.9h0M609.3 206.1h0M607.2 160.6h0M623.4 192.3h0M660.0 198.0h0M597.7 178.0h0M544.0 166.4h0M641.8 154.1h0M592.3 187.6h0M499.7 174.4h0M579.2 166.3h0M605.0 173.2h0M584.3 209.7h0M645.2 163.4h0M555.8 170.9h0M552.9 155.9h0M601.1 180.2h0M599.6 165.2h0M634.6 154.3h0M642.9 152.5h0M635.5 179.1h0M535.2 173.7h0M558.9 171.3h0M618.8 148.5h0M632.5 144.5h0M575.4 193.9h0M524.2 185.9h0M657.6 172.8h0M604.5 177.1h0M537.7 195.3h0M619.2 202.1h0M540.1 178.5h0M653.1 190.1h0M572.4 216.6h0M598.1 168.6h0M604.2 150.6h0M561.7 179.1h0M566.2 219.9h0M613.9 168.6h0M512.2 190.0h0M527.6 177.6h0M622.7 172.2h0M625.3 197.0h0M634.3 206.3h0M541.7 164.8h0M660.7 215.2h0M643.9 215.0h0M512.2 204.4h0M523.4 195.3h0M640.2 194.7h0M621.2 202.3h0M646.9 180.8h0M642.2 210.0h0M653.5 192.3h0M657.1 145.1h0M605.4 154.8h0M503.6 177.1h0M620.3 147.3h0M578.8 180.8h0M641.0 212.6h0M633.3 164.3h0M565.4 159.6h0M583.9 182.8h0M640.3 169.1h0M497.1 175.2h0M615.7 161.7h0M616.2 199.0h0M574.6 176.6h0M562.2 167.0h0M606.3 191.6h0M645.1 180.9h0M641.1 191.8h0M656.5 161.7h0M628.5 218.3h0M652.0 146.3h0M518.0 168.9h0M630.3 159.8h0M567.1 174.1h0M521.8 168.6h0M592.7 156.2h0M648.0 146.3h0M582.8 157.2h0M561.2 197.8h0M599.1 163.6h0M639.4 149.9h0M636.4 145.6h0M505.0 174.0h0M576.8 189.5h0M624.1 165.1h0M641.4 191.2h0M517.2 205.0h0M590.5 195.9h0M645.1 174.2h0M617.6 225.4h0M628.5 141.2h0M603.2 228.8h0M620.1 143.7h0M656.6 193.2h0M629.5 161.1h0M632.0 142.5h0M656.1 160.0h0M580.9 217.7h0M575.3 168.1h0M546.7 168.2h0M539.0 181.2h0M640.3 155.3h0M565.6 199.5h0M629.2 194.6h0M653.9 148.1h0M511.6 173.6h0M602.1 185.2h0M657.4 214.0h0M587.2 182.0h0M597.9 158.0h0M657.2 221.0h0M620.5 168.0h0M632.4 185.6h0M534.7 182.0h0M562.7 161.1h0M583.1 161.9h0M585.8 175.3h0M601.1 174.0h0M614.4 161.2h0M644.0 206.5h0M640.1 188.3h0M557.7 180.4h0M614.5 177.2h0M646.0 226.3h0M522.8 210.0h0M588.1 190.2h0M641.5 183.7h0M527.9 174.3h0M554.4 171.9h0M582.5 189.2h0M649.3 218.6h0M610.9 172.7h0M570.5 202.0h0M547.8 171.3h0M585.2 217.2h0M647.8 194.0h0M639.1 176.4h0M607.8 162.8h0M546.6 170.7h0M649.1 185.4h0M656.9 164.3h0M636.0 159.3h0M603.0 173.5h0M535.4 202.1h0M582.9 193.5h0M630.4 227.4h0M561.7 203.7h0M643.0 201.3h0M524.2 174.2h0M606.2 179.6h0M569.4 158.8h0M660.3 145.4h0M551.1 169.4h0M657.0 181.9h0M628.8 145.2h0M650.3 216.9h0M551.1 223.5h0M573.5 209.9h0M604.9 174.5h0M610.7 200.8h0M614.6 198.0h0M569.2 180.8h0M624.0 206.7h0M649.1 169.8h0M612.4 155.9h0M589.3 191.4h0M573.3 180.6h0M656.1 170.8h0M595.7 167.1h0M590.3 179.4h0M586.8 203.3h0M626.2 186.9h0M634.2 153.7h0M651.0 155.7h0M570.5 184.9h0M656.4 191.0h0M510.4 172.4h0M535.1 211.1h0M661.5 172.7h0M651.5 205.6h0M575.3 173.8h0M552.2 203.1h0M494.2 165.3h0M585.4 196.7h0M542.3 186.9h0M657.6 185.4h0M658.1 173.9h0M632.0 148.7h0M640.0 176.0h0M646.1 209.2h0M628.9 195.2h0M636.3 174.9h0M596.5 229.3h0M581.1 183.0h0M636.7 196.6h0M627.0 193.5h0M624.9 146.3h0M601.6 167.1h0M528.5 172.3h0M511.6 192.9h0M628.9 195.4h0M534.0 200.8h0M612.7 191.8h0M576.0 204.2h0M541.1 185.9h0M590.9 184.8h0M564.1 166.5h0M659.9 149.4h0M560.8 214.3h0M640.3 208.5h0M574.5 157.3h0M544.4 178.7h0M611.0 216.3h0M568.9 197.8h0M597.2 195.4h0M658.6 193.6h0M661.3 175.4h0M553.5 217.6h0M627.9 204.3h0M636.4 145.2h0M600.0 193.1h0M564.7 159.4h0M516.5 171.3h0M618.4 222.7h0M532.8 175.3h0M626.8 224.9h0M644.1 179.1h0M654.9 159.0h0M613.1 198.2h0M521.1 193.5h0M651.9 149.0h0M651.8 202.1h0M614.5 160.7h0M602.9 155.0h0M600.0 170.7h0M563.0 206.3h0M574.2 168.2h0M654.4 155.0h0M553.3 157.9h0M652.6 168.6h0M632.4 170.4h0M630.4 174.1h0M640.8 193.0h0M652.4 155.5h0M612.8 218.7h0M654.3 156.2h0M501.3 174.4h0M534.6 194.8h0M646.6 227.9h0M658.9 179.1h0M624.1 197.9h0M593.9 165.5h0M540.0 163.1h0M638.3 152.2h0M595.0 167.6h0M659.2 169.7h0M660.9 223.4h0M594.3 156.8h0M656.7 172.2h0M626.3 182.4h0M588.9 162.2h0M654.9 158.5h0M563.5 171.8h0M582.3 178.0h0M551.7 190.6h0M578.6 190.3h0M574.6 197.1h0M614.0 229.0h0M658.0 151.3h0M646.6 165.6h0M546.9 168.1h0M534.8 172.4h0M611.2 155.3h0M527.8 173.7h0M631.7 197.7h0M641.1 225.9h0M521.7 225.2h0M647.3 211.1h0M635.3 148.2h0M586.6 167.6h0M610.1 206.3h0M625.6 208.3h0M526.5 168.9h0M642.1 214.2h0M657.8 227.7h0M620.9 180.4h0M661.0 200.9h0M599.0 171.5h0M656.2 187.8h0M591.2 188.3h0M496.7 175.4h0M555.8 208.3h0M602.9 169.2h0M613.3 178.6h0M613.6 167.2h0M550.9 180.9h0M580.4 174.0h0M656.0 217.1h0M541.5 172.2h0M596.9 189.4h0M607.4 177.2h0M622.4 203.0h0M603.7 170.2h0M530.6 171.1h0M584.1 169.8h0M628.4 182.4h0M625.7 154.3h0M641.9 151.5h0M604.3 185.3h0M557.9 205.6h0M612.3 196.8h0M518.0 177.5h0M620.8 178.2h0M634.8 207.5h0M567.8 193.7h0M614.2 214.2h0M536.4 181.9h0M604.8 154.6h0M498.5 171.6h0M649.0 210.8h0M565.7 165.2h0M655.9 195.7h0M576.2 202.6h0M612.3 170.4h0M613.4 162.2h0M634.9 204.7h0M606.6 154.4h0M652.0 203.5h0M616.7 155.8h0M571.2 215.6h0M632.4 179.8h0M531.4 187.7h0M633.1 143.7h0M610.2 160.9h0M585.7 168.1h0M516.9 171.3h0M612.8 212.4h0M620.6 201.5h0M577.2 175.8h0M649.1 170.4h0M532.1 171.2h0M630.3 148.9h0M621.8 150.1h0M571.6 162.5h0M611.3 170.6h0M516.6 184.0h0M637.7 184.1h0M601.2 192.8h0M554.8 161.8h0M619.5 186.6h0M559.0 184.7h0M540.2 169.0h0M561.9 164.9h0M635.8 186.3h0M615.7 195.5h0M636.8 214.1h0M580.0 166.9h0M549.4 167.4h0M640.7 162.7h0M584.6 166.4h0M532.2 178.6h0M646.3 217.4h0M649.8 154.7h0M646.8 168.4h0M585.2 184.7h0M656.8 180.4h0M554.3 160.8h0M560.8 171.7h0M548.8 173.2h0M554.7 161.4h0M592.7 183.5h0M609.2 159.1h0M591.1 157.6h0M617.2 197.6h0M634.9 210.6h0M614.0 180.8h0M551.5 186.4h0M610.3 157.2h0M617.1 195.6h0M619.6 227.9h0M625.5 184.4h0M619.1 204.8h0M587.1 179.4h0M644.4 169.5h0M538.0 214.6h0M640.8 208.3h0M652.3 186.8h0M614.2 159.1h0M584.9 172.0h0M641.4 153.6h0M590.7 153.9h0M591.7 160.7h0M568.0 190.9h0M619.8 165.3h0M597.6 161.7h0M590.7 215.3h0M628.2 172.8h0M570.7 191.5h0M510.4 183.0h0M535.9 222.2h0M642.1 171.2h0M645.1 192.6h0M620.5 202.6h0M593.5 159.9h0M639.3 172.8h0M653.3 187.9h0M637.7 218.2h0M561.4 184.6h0M571.5 158.5h0M586.2 211.1h0M575.8 174.8h0M564.5 166.1h0M620.1 198.1h0M623.4 145.0h0M630.5 224.2h0M643.1 218.0h0M509.3 170.4h0M661.1 199.1h0M499.1 170.2h0M573.8 167.6h0M641.1 186.4h0M645.6 192.4h0M615.4 185.3h0M642.4 144.9h0M624.0 212.3h0M648.6 201.3h0M577.9 165.7h0M597.4 190.7h0M548.0 188.6h0M659.8 159.6h0M658.8 189.5h0M606.4 210.8h0M599.1 184.4h0M544.4 174.9h0M610.0 170.6h0M648.7 192.8h0M651.6 183.0h0M650.4 140.9h0M620.0 194.7h0M512.7 204.9h0M613.2 220.7h0M646.4 215.6h0M635.7 212.9h0M655.0 145.7h0M568.5 169.4h0M629.9 182.8h0M532.6 176.0h0M660.2 181.5h0M619.4 201.0h0M594.1 188.0h0M611.6 221.1h0M575.1 171.2h0M623.9 206.5h0M586.5 178.8h0M533.9 170.8h0M659.7 168.8h0M603.0 158.8h0M565.0 173.0h0M640.0 182.8h0M624.0 163.9h0M656.5 146.6h0M546.1 225.2h0M603.4 158.3h0M630.9 182.8h0M588.6 176.6h0M642.9 206.3h0M632.3 170.8h0M466.8 177.1h0M568.0 167.6h0M530.7 170.6h0M599.8 170.2h0M619.7 192.4h0M604.4 225.5h0M617.0 178.3h0M601.5 159.5h0M600.7 190.1h0M548.2 228.2h0M571.8 186.7h0M610.8 159.9h0M517.7 169.4h0M625.9 156.9h0M649.1 147.2h0M523.1 218.7h0M634.9 197.5h0M653.6 217.1h0M635.2 176.8h0M649.9 218.5h0M633.4 189.5h0M461.1 164.0h0M652.8 147.6h0M627.4 215.8h0M650.9 162.4h0M620.6 207.9h0M613.9 187.2h0M646.1 180.5h0M588.1 168.0h0M626.7 170.6h0M619.9 191.8h0M630.2 194.9h0M632.6 139.6h0M636.5 215.4h0M623.2 201.6h0M597.9 172.8h0M570.1 158.7h0M548.8 161.8h0M651.1 181.0h0M520.0 172.7h0M608.5 213.0h0M575.2 212.0h0M592.4 211.4h0M641.5 166.0h0M632.5 162.1h0M619.7 208.2h0M524.8 172.1h0M591.6 222.2h0M561.0 168.0h0M638.0 192.8h0M630.9 149.6h0M659.5 149.7h0M650.9 190.1h0M601.6 170.0h0M626.6 142.0h0M560.7 165.8h0M638.5 182.3h0M614.0 206.1h0M558.2 189.1h0M636.1 195.9h0M653.9 161.0h0M606.7 161.4h0M626.0 157.8h0M623.9 175.2h0M621.3 181.9h0M626.7 151.7h0M611.6 183.5h0M644.3 161.7h0M640.3 183.9h0M545.1 176.7h0M578.2 200.7h0M569.7 166.6h0M616.8 177.9h0M653.4 217.8h0M642.6 218.9h0M647.7 208.7h0M639.7 220.2h0M563.6 162.1h0M636.3 173.2h0M639.9 210.8h0M515.6 200.8h0M620.1 196.8h0M591.0 209.3h0M618.5 201.2h0M586.1 192.8h0M548.9 157.9h0M643.5 156.5h0M582.7 171.0h0M569.9 171.9h0M635.1 153.2h0M606.1 193.7h0M567.7 162.8h0M633.2 179.8h0M604.2 158.6h0M659.9 166.9h0M589.4 214.3h0M636.1 203.4h0M616.1 212.6h0M646.4 207.1h0M578.1 199.6h0M570.8 202.5h0M643.1 176.1h0M549.0 177.2h0M656.3 155.3h0M635.9 166.9h0M614.5 181.7h0M623.2 148.0h0M510.6 172.5h0M592.4 204.9h0M576.9 182.6h0M586.5 183.1h0M514.0 170.6h0M627.9 205.7h0M648.6 152.7h0M658.7 140.2h0M587.1 193.7h0M601.9 168.1h0M645.9 160.1h0M629.1 193.2h0M646.6 189.3h0M589.0 219.7h0M527.6 197.3h0M542.9 227.1h0M653.1 203.1h0M648.1 163.6h0M550.1 188.4h0M639.7 181.4h0M630.3 191.8h0M647.1 173.5h0M635.4 204.5h0M564.4 196.1h0M577.5 229.9h0M625.1 229.3h0M640.7 198.4h0M605.3 167.1h0M585.4 165.9h0M651.3 213.9h0M642.9 192.3h0M655.2 142.7h0M635.5 221.2h0M647.9 175.6h0M566.5 171.2h0M650.6 166.5h0M629.0 162.8h0M581.9 213.5h0M595.2 206.0h0M578.2 199.8h0M571.1 170.6h0M583.9 162.8h0M613.3 165.0h0M660.4 150.3h0M616.5 181.1h0M577.2 171.1h0M571.1 180.5h0M640.5 215.6h0M647.1 199.4h0M623.5 196.3h0M551.3 173.0h0M622.9 199.2h0M610.5 163.1h0M582.6 160.5h0M633.4 157.5h0M538.3 211.8h0M503.5 173.4h0M593.2 183.9h0M562.8 157.6h0M572.2 162.6h0M579.5 189.1h0M653.9 226.6h0M561.8 197.5h0M607.7 175.3h0M549.6 211.7h0M633.5 159.2h0M640.2 226.9h0M582.8 189.2h0M646.4 181.8h0M644.1 169.0h0M650.0 152.3h0M661.6 140.7h0M611.1 226.7h0M520.5 195.8h0M513.6 166.6h0M631.0 187.9h0M563.8 187.8h0M533.1 183.8h0M658.8 165.1h0M654.9 223.2h0M596.6 173.5h0M600.6 170.4h0M513.7 183.0h0M558.8 157.0h0M632.0 202.6h0M646.8 182.1h0M597.9 174.6h0M564.0 172.1h0M534.1 229.1h0M620.5 198.4h0M620.7 198.8h0M586.6 182.8h0M556.9 172.8h0M574.4 176.4h0M518.5 169.4h0M559.1 189.9h0M559.9 180.4h0M633.2 186.3h0M613.8 195.4h0M648.0 203.3h0M613.2 161.4h0M586.1 187.3h0M657.2 152.2h0M659.3 193.1h0M646.7 193.0h0M527.6 170.3h0M602.5 179.6h0M627.8 208.4h0M569.7 229.0h0M625.9 204.3h0M658.1 187.5h0M635.0 203.3h0M597.1 196.8h0M605.8 171.5h0M624.9 188.6h0M619.0 214.9h0M651.1 152.9h0M625.3 159.3h0M583.4 176.8h0M605.4 149.7h0M535.0 178.0h0M634.6 151.6h0M619.4 175.3h0M630.4 181.2h0M620.0 199.5h0M622.4 151.1h0M578.0 182.1h0M582.5 155.4h0M585.4 203.1h0M648.7 176.6h0M530.5 175.2h0M575.4 164.7h0M625.0 215.1h0M649.3 158.0h0M622.3 220.6h0M627.4 191.1h0M616.3 212.9h0M526.9 173.2h0M649.1 175.6h0M650.8 193.3h0M512.9 180.9h0M614.6 154.8h0M607.2 190.7h0M611.5 160.7h0M635.5 155.4h0M531.4 228.0h0M659.9 211.6h0M648.5 152.1h0M582.0 160.7h0M643.2 152.1h0M554.4 222.2h0M654.7 195.9h0M659.8 226.0h0M548.5 158.4h0M594.8 196.4h0M581.8 180.6h0M650.2 166.3h0M651.9 200.6h0M614.9 174.5h0M657.9 149.3h0M596.5 178.0h0M648.4 187.2h0M587.7 196.8h0M603.3 186.7h0M652.6 191.9h0M619.0 155.6h0M528.4 173.8h0M659.7 223.5h0M595.1 169.0h0M654.5 184.3h0M652.2 185.0h0M646.5 178.8h0M647.0 186.0h0M618.8 195.8h0M594.9 204.1h0M622.9 228.1h0M609.2 168.8h0M607.0 183.2h0M548.6 174.5h0M503.0 170.2h0M638.8 146.3h0M532.5 175.7h0M647.5 182.5h0M542.9 164.6h0M624.7 158.7h0M617.0 184.6h0M643.3 168.8h0M590.4 165.6h0M561.0 216.6h0M586.2 175.1h0M653.6 164.8h0M545.0 221.3h0M572.0 168.7h0M643.8 182.2h0M578.8 176.0h0M647.2 150.8h0M577.2 160.1h0M524.9 208.3h0M537.5 178.8h0M604.9 187.3h0M559.0 196.9h0M555.6 185.0h0M626.6 210.5h0M599.2 160.1h0M645.3 181.9h0M572.2 189.1h0M652.9 142.7h0M602.6 176.6h0M643.2 160.9h0M599.4 203.9h0M644.5 209.3h0M648.2 144.0h0M621.7 226.1h0M654.8 218.3h0M516.6 175.4h0M645.7 207.0h0M513.9 173.9h0M638.8 176.3h0M643.2 212.3h0M633.2 208.8h0M642.5 221.4h0M515.4 223.9h0M596.6 156.3h0M567.8 189.5h0M661.3 207.4h0M596.6 155.6h0M559.1 162.1h0M622.9 215.7h0M589.9 194.2h0M564.5 158.2h0M631.3 209.5h0M658.4 140.3h0M624.5 209.4h0M614.4 191.1h0M603.6 185.3h0M658.8 188.6h0M596.4 177.9h0M643.7 158.4h0M610.9 166.6h0M612.1 194.6h0M624.4 187.8h0M540.9 169.6h0M641.4 193.3h0M643.6 173.7h0M555.9 159.4h0M582.8 199.6h0M606.7 154.9h0M576.7 188.1h0M551.8 191.0h0M608.6 179.0h0M497.1 168.3h0M639.7 176.7h0M515.7 198.9h0M590.4 182.8h0M646.5 168.8h0M569.0 191.3h0M583.3 196.5h0M610.8 174.3h0M614.5 206.2h0M617.5 201.3h0M498.4 174.8h0M606.6 180.2h0M476.5 172.5h0M536.8 177.8h0M558.1 192.5h0M656.5 162.6h0M607.3 161.4h0M610.6 191.8h0M606.1 219.0h0M528.8 170.0h0M625.3 145.2h0M596.1 187.1h0M505.7 175.3h0M500.4 168.3h0M654.9 186.6h0M613.3 157.6h0M607.5 167.6h0M659.7 194.8h0M611.8 165.0h0M616.7 202.4h0M616.3 175.1h0M619.5 224.6h0M567.9 184.8h0M534.0 176.7h0M622.0 173.9h0M613.5 172.3h0M595.7 191.2h0M537.1 176.7h0M649.6 199.2h0M638.2 142.2h0M572.7 180.8h0M636.5 183.5h0M561.3 195.2h0M571.7 204.2h0M593.8 157.2h0M630.7 172.9h0M558.5 167.5h0M616.1 190.3h0M618.3 200.8h0M653.9 202.6h0M556.4 161.4h0M652.5 212.9h0M619.7 175.5h0M637.9 172.0h0M654.6 201.9h0M639.5 171.1h0M592.6 171.9h0M502.2 168.1h0M609.1 186.6h0M619.0 178.7h0M641.3 207.8h0M568.3 191.8h0M610.3 221.8h0M612.1 196.0h0M643.9 221.0h0M619.4 191.4h0M583.1 188.2h0M551.5 168.6h0M550.2 151.6h0M570.1 157.7h0M627.2 171.1h0M602.2 158.4h0M624.2 176.3h0M593.3 213.5h0M566.4 183.4h0M613.3 197.0h0M589.8 160.1h0M595.2 187.9h0M609.4 188.7h0M528.5 169.6h0M661.7 188.1h0M582.1 160.8h0M617.4 203.1h0M589.8 191.7h0M584.2 196.2h0M636.9 206.9h0M532.8 170.6h0M614.6 206.5h0M582.2 209.9h0M578.4 189.6h0M582.2 227.7h0M524.5 178.7h0M625.0 205.2h0M657.2 142.0h0M555.9 208.5h0M566.5 194.5h0M614.3 202.8h0M549.5 194.5h0M540.4 217.3h0M652.1 225.6h0M646.0 175.0h0M654.1 221.7h0M634.1 212.2h0M635.1 203.1h0M637.4 228.3h0M610.1 161.0h0M656.2 198.5h0M590.0 181.1h0M607.9 188.9h0M608.6 175.0h0M456.8 168.5h0M604.0 173.5h0M605.4 194.2h0M565.0 158.0h0M629.3 167.8h0M601.4 153.0h0M642.4 140.0h0M652.5 150.8h0M633.5 142.1h0M604.2 178.6h0M574.6 217.7h0M650.6 207.3h0M639.9 201.6h0M645.5 201.1h0M607.5 152.6h0M626.9 175.2h0M655.9 172.9h0M597.9 161.2h0M650.8 228.4h0M560.2 220.1h0M661.6 176.8h0M608.7 168.1h0M598.9 173.9h0M565.4 197.4h0M599.8 177.0h0M586.9 210.8h0M660.9 223.1h0M540.7 162.5h0M650.0 187.3h0M585.9 192.0h0M625.0 216.9h0M553.4 167.8h0M643.0 164.0h0M660.2 153.6h0M654.6 179.8h0M639.0 155.0h0M530.4 179.0h0M574.5 173.5h0M623.2 169.8h0M653.0 190.3h0M590.4 188.6h0M601.1 166.3h0M615.3 184.1h0M568.0 157.6h0M574.3 172.1h0M632.9 220.4h0M661.6 186.5h0M613.3 151.2h0M614.0 202.3h0M644.9 192.0h0M660.3 191.3h0M622.8 163.5h0M620.4 218.8h0M607.7 172.1h0M576.9 187.5h0M640.7 147.7h0M642.8 191.8h0M618.3 201.2h0M602.3 206.7h0M629.3 187.5h0M584.1 158.4h0M579.0 172.9h0M520.3 171.0h0M647.3 203.4h0M594.1 174.1h0M605.4 193.3h0M628.6 196.9h0M659.0 152.9h0M618.4 190.9h0M613.1 164.1h0M623.2 200.3h0M579.2 172.2h0M538.4 174.4h0M626.8 221.7h0M589.5 201.0h0M640.7 196.0h0M549.6 166.4h0M610.4 160.6h0M651.4 179.6h0M610.1 200.4h0M609.8 168.0h0M542.7 186.6h0M616.4 167.1h0M633.1 224.0h0M554.0 180.1h0M587.0 195.6h0M612.9 152.7h0M642.8 144.8h0M655.8 142.8h0M620.5 219.3h0M583.3 167.5h0M519.5 194.9h0M592.0 184.0h0M583.5 194.0h0M656.8 181.2h0M626.8 196.8h0M562.0 170.7h0M613.4 160.8h0M589.3 172.1h0M657.7 186.8h0M578.9 174.9h0M643.1 198.6h0M589.8 168.8h0M499.5 168.2h0M592.3 229.0h0M498.3 163.3h0M631.6 205.3h0M620.4 155.1h0M654.8 200.4h0M654.8 182.3h0M645.6 160.2h0M625.7 180.3h0M611.0 162.5h0M661.2 169.1h0M635.7 165.4h0M544.2 215.3h0M621.2 186.3h0M609.2 181.4h0M604.9 208.3h0M646.6 168.1h0M600.8 189.4h0M584.5 211.2h0M640.1 168.5h0M641.3 192.8h0M635.0 209.9h0M622.6 209.7h0M580.8 184.4h0M563.7 178.9h0M606.0 176.8h0M653.1 165.1h0M647.3 188.1h0M629.7 142.8h0M656.7 159.7h0M626.7 208.7h0M510.7 171.9h0M546.2 184.2h0M615.7 186.6h0M622.5 214.9h0M569.4 194.1h0M599.6 175.5h0M630.8 208.7h0M599.4 159.4h0M569.1 209.4h0M629.6 183.8h0M641.0 193.2h0M512.8 166.1h0M585.0 216.5h0M608.7 222.2h0M601.1 185.7h0M661.5 186.3h0M647.2 186.4h0M608.9 163.8h0M655.3 182.4h0M588.2 189.8h0M576.1 172.4h0M596.5 164.5h0M605.4 159.1h0M641.6 191.4h0M615.2 156.5h0M544.1 191.9h0M638.8 152.4h0M637.4 221.4h0M650.1 163.5h0M630.3 184.4h0M568.6 204.9h0M623.8 200.3h0M610.4 159.4h0M565.8 174.7h0M632.5 174.7h0M601.3 169.1h0M580.9 167.0h0M610.4 183.2h0M617.5 174.8h0M649.1 197.8h0M574.3 156.3h0M592.8 162.5h0M637.6 193.8h0M568.5 222.6h0M550.9 171.9h0M648.8 185.5h0M582.7 189.4h0M577.4 188.3h0M604.3 180.3h0M655.2 225.3h0M613.6 151.5h0M632.3 157.4h0M655.3 212.1h0M584.0 200.0h0M652.0 195.7h0M582.9 211.5h0M643.9 208.5h0M637.0 173.1h0M531.7 225.5h0M532.8 169.8h0M564.3 161.6h0M616.3 164.8h0M527.0 177.9h0M513.2 171.1h0M650.7 203.2h0M577.0 162.8h0M589.5 198.4h0M630.0 206.6h0M565.6 196.9h0M615.5 152.5h0M580.4 182.3h0M608.4 199.2h0M563.2 171.6h0M603.3 188.0h0M544.5 168.3h0M575.2 182.6h0M661.1 173.8h0M604.8 191.4h0M612.6 154.6h0M641.2 214.6h0M595.8 192.4h0M547.1 195.2h0M614.4 161.3h0M618.2 176.9h0M545.8 185.8h0M638.5 147.9h0M651.0 214.3h0M579.9 195.4h0M638.8 183.3h0M658.4 189.0h0M635.0 168.1h0M583.7 210.2h0M574.0 169.1h0M541.6 166.6h0M629.1 197.7h0M570.3 201.2h0M586.4 177.0h0M531.8 179.5h0M644.5 141.3h0M619.6 155.4h0M598.5 161.3h0M619.6 169.2h0M579.1 212.1h0M566.5 175.0h0M608.8 163.4h0M599.1 178.1h0M552.3 176.1h0M621.4 171.1h0M632.8 160.0h0M627.4 181.9h0M629.0 154.4h0M521.7 198.6h0M597.3 174.1h0M653.5 198.7h0M585.3 159.4h0M507.4 168.2h0M657.2 198.3h0M628.6 207.6h0M530.6 173.5h0M599.4 173.0h0M637.8 189.3h0M649.3 160.0h0M510.5 223.5h0M611.1 210.2h0M650.2 145.4h0M528.6 168.2h0M644.4 221.8h0M634.3 180.0h0M609.0 162.3h0M575.9 168.0h0M620.0 180.4h0M634.1 200.5h0M651.8 184.8h0M596.9 154.1h0M622.9 182.1h0M596.3 157.5h0M630.3 184.7h0M609.1 206.8h0M585.1 177.3h0M654.1 163.4h0M576.7 170.7h0M618.4 163.7h0M611.2 147.9h0M474.1 172.3h0M529.7 174.3h0M635.5 209.2h0M648.4 202.3h0M655.6 205.4h0M639.8 158.5h0M607.8 168.0h0M576.8 199.4h0M545.7 170.9h0M620.5 192.2h0M612.0 196.1h0M643.9 164.6h0M628.8 171.0h0M657.3 139.8h0M610.2 195.6h0M529.4 169.7h0M642.2 195.7h0M601.8 180.2h0M618.1 202.1h0M625.7 154.3h0M603.9 175.6h0M655.2 150.2h0M564.8 167.8h0M599.8 165.8h0M557.5 181.3h0M619.3 182.5h0M644.6 162.6h0M538.6 206.7h0M581.7 194.0h0M606.1 215.1h0M592.3 202.9h0M650.1 142.1h0M533.5 184.2h0M585.2 164.0h0M615.0 172.9h0M605.9 156.8h0M645.3 180.3h0M656.2 148.0h0M652.2 168.9h0M605.2 168.7h0M645.7 208.8h0M658.8 226.2h0M646.0 157.2h0M577.3 180.4h0M547.9 186.7h0M555.5 163.2h0M556.3 177.2h0M577.4 159.3h0M578.8 194.8h0M643.6 161.0h0M566.5 180.5h0M603.8 166.3h0M540.7 176.1h0M621.4 184.6h0M582.7 192.6h0M653.4 189.9h0M585.6 175.7h0M654.8 200.7h0M619.5 176.0h0M602.2 168.2h0M600.6 195.2h0M590.3 155.3h0M653.7 179.0h0M563.0 180.7h0M629.7 192.0h0M649.7 176.3h0M552.2 170.4h0M589.7 197.2h0M630.4 196.5h0M557.6 196.3h0M537.4 174.5h0M562.7 155.8h0M634.6 153.1h0M628.5 146.6h0M582.2 197.9h0M577.9 159.5h0M648.0 158.7h0M497.3 176.6h0M649.5 144.8h0M656.0 138.6h0M615.6 144.7h0M615.7 153.4h0M508.4 170.5h0M574.6 188.0h0M629.7 172.3h0M616.2 174.4h0M569.5 180.1h0M534.3 175.9h0M636.4 148.6h0M612.0 204.3h0M562.1 196.5h0M661.8 180.3h0M546.9 174.8h0M584.6 202.7h0M598.1 159.6h0M629.7 212.5h0M649.6 205.0h0M460.0 169.8h0M648.8 216.6h0M543.1 177.9h0M625.8 199.4h0M588.1 163.3h0M626.0 178.8h0M659.6 144.6h0M652.3 144.9h0M536.5 173.6h0M538.1 187.9h0M547.3 169.0h0M558.3 164.8h0M574.0 171.9h0M635.9 225.1h0M603.9 175.5h0M569.3 179.9h0M657.0 164.1h0M566.0 198.4h0M585.7 191.1h0M620.3 206.6h0M598.1 227.7h0M609.7 191.3h0M604.0 198.5h0M617.1 224.8h0M592.8 176.0h0M652.6 204.6h0M637.2 171.4h0M571.1 162.7h0M654.5 213.1h0M646.4 211.0h0M622.9 189.1h0M600.2 167.9h0M568.3 159.4h0M642.7 216.0h0M602.6 190.8h0M660.5 213.2h0M613.8 179.3h0M640.5 184.0h0M618.9 149.0h0M656.0 192.8h0M580.3 228.6h0M542.0 198.0h0M471.6 168.9h0M650.1 156.9h0M600.0 206.8h0M575.2 201.9h0M612.2 194.1h0M653.6 202.1h0M595.3 190.2h0M630.1 166.2h0M640.9 216.2h0M605.5 167.6h0M641.5 192.7h0M647.9 181.7h0M604.4 174.5h0M630.4 152.1h0M648.3 149.9h0M633.7 226.6h0M590.8 178.1h0M587.7 190.1h0M647.2 201.5h0M573.7 198.6h0M659.8 198.3h0M615.9 183.2h0M609.1 212.8h0M563.5 176.3h0M574.8 162.0h0M628.6 178.4h0M646.7 223.8h0M548.0 178.8h0M610.8 215.9h0M578.4 187.8h0M651.0 205.8h0M532.5 170.7h0M601.2 157.6h0M639.0 181.8h0M660.6 199.2h0M563.3 193.1h0M611.9 165.8h0M572.0 181.9h0M600.5 219.2h0M560.2 181.6h0M661.4 227.1h0M568.5 205.8h0M600.5 208.4h0M637.3 201.2h0M598.0 177.3h0M616.9 167.5h0M628.6 160.8h0M570.4 158.2h0M552.5 163.0h0M645.3 164.8h0M577.8 160.3h0M514.6 173.9h0M653.2 199.5h0M595.9 182.4h0M651.5 180.5h0M569.1 167.0h0M593.6 201.4h0M552.6 166.7h0M590.3 192.7h0M627.0 199.1h0M660.2 149.5h0M658.7 211.8h0M578.1 176.8h0M606.2 210.5h0M623.4 155.7h0M539.2 175.4h0M603.4 180.7h0M554.1 174.0h0M631.5 192.3h0M568.9 179.2h0M603.0 159.8h0M614.9 221.6h0M545.0 180.6h0M614.0 193.3h0M554.1 177.1h0M586.5 217.0h0M661.6 179.2h0M613.8 184.5h0M615.4 168.8h0M655.9 186.5h0M588.5 162.4h0M602.5 185.5h0M632.4 178.6h0M616.4 194.7h0M610.4 179.7h0M641.5 187.0h0M636.0 172.4h0M586.3 170.8h0M639.8 193.0h0M629.3 189.6h0M652.2 175.5h0M615.4 176.0h0M622.1 224.0h0M661.6 175.0h0M615.1 188.7h0M599.6 205.1h0M514.4 170.4h0M577.5 219.4h0M618.6 161.7h0M650.0 186.4h0M599.3 189.1h0M621.4 189.3h0M613.9 179.5h0M620.5 182.3h0M639.4 165.1h0M583.6 177.4h0M615.4 225.1h0M624.7 205.4h0M577.8 204.0h0M599.5 166.2h0M655.8 207.0h0M604.7 166.8h0M623.3 220.4h0M617.4 162.0h0M649.1 148.9h0M534.5 187.4h0M602.6 181.6h0M576.4 173.8h0M625.3 198.7h0M627.3 146.5h0M560.5 169.4h0M643.9 144.2h0M630.7 178.7h0M616.8 171.4h0M518.5 172.2h0M627.6 211.4h0M576.1 223.1h0M559.7 172.5h0M457.1 177.9h0M657.9 178.0h0M604.9 173.9h0M585.9 159.3h0M658.0 226.5h0M497.2 174.4h0M608.0 157.2h0M583.2 175.6h0M623.4 189.5h0M469.3 177.9h0M627.1 207.2h0M635.3 190.0h0M580.6 158.4h0M645.5 194.4h0M659.8 205.9h0M636.9 166.0h0M657.0 151.0h0M573.8 187.5h0M593.4 168.6h0M588.5 178.9h0M644.8 151.8h0M646.6 221.5h0M574.2 208.8h0M630.5 223.4h0M549.7 173.2h0M559.2 163.5h0M568.0 167.2h0M577.1 166.3h0M641.9 151.3h0M645.0 173.3h0M606.2 157.8h0M636.9 209.0h0M492.2 171.1h0M621.7 219.3h0M608.5 214.2h0M604.0 214.7h0M642.2 150.2h0M502.7 173.9h0M613.3 185.1h0M544.5 190.5h0M644.1 200.4h0M658.3 154.5h0M618.0 201.1h0M629.9 228.2h0M647.9 201.7h0M568.6 183.8h0M549.8 224.5h0M598.1 155.4h0M604.0 185.9h0M577.2 184.3h0M628.8 174.8h0M638.8 177.6h0M555.8 196.6h0M643.6 144.1h0M650.1 155.7h0M624.7 200.5h0M630.1 154.8h0M557.8 204.1h0M474.3 177.8h0M632.4 210.6h0M639.8 201.3h0M660.6 201.9h0M660.0 147.9h0M569.2 182.1h0M561.3 229.5h0M630.8 151.5h0M638.2 154.5h0M633.3 162.9h0M628.9 155.7h0M624.8 199.8h0M597.9 176.4h0M651.6 200.5h0M655.9 162.5h0M529.8 188.5h0M628.8 202.9h0M545.6 226.9h0M554.8 192.9h0M540.5 184.6h0M660.5 154.6h0M660.3 160.7h0M647.5 150.2h0M599.7 222.1h0M583.4 194.5h0M566.9 181.3h0M597.1 193.5h0M652.3 217.1h0M534.3 169.7h0M591.5 182.9h0M648.8 215.2h0M552.2 177.7h0M654.6 191.7h0M523.4 217.2h0M652.0 164.6h0M620.7 144.6h0M572.2 180.6h0M572.3 180.4h0M592.7 191.1h0M603.7 197.4h0M652.2 205.6h0M593.4 154.3h0M658.6 215.2h0M596.5 198.6h0M615.1 179.7h0M552.4 177.9h0M513.8 168.6h0M619.3 210.2h0M521.2 207.0h0M589.1 169.6h0M653.8 199.0h0M571.8 206.1h0M497.3 173.6h0M643.0 160.3h0M606.5 188.1h0M550.6 196.1h0M633.7 190.1h0M638.5 164.1h0M655.0 200.3h0M578.5 187.9h0M626.9 172.5h0M563.5 187.4h0M640.6 202.4h0M623.4 163.4h0M532.3 221.8h0M634.6 188.4h0M610.5 170.6h0M639.0 211.2h0M506.7 169.1h0M477.8 163.7h0M586.0 226.9h0M629.8 171.3h0M600.4 169.4h0M463.5 176.0h0M580.7 189.4h0M574.2 163.1h0M635.8 159.6h0M626.9 154.3h0M635.1 188.2h0M597.9 186.8h0M654.5 216.6h0M637.9 175.3h0M630.2 185.8h0M643.5 188.2h0M570.5 194.4h0M634.4 168.7h0M603.7 164.1h0M556.9 172.8h0M620.7 190.7h0M516.4 170.0h0M658.8 190.5h0M653.0 174.2h0M515.3 208.4h0M596.2 154.2h0M544.5 178.6h0M646.4 177.2h0M577.6 166.4h0M603.5 159.8h0M623.8 202.4h0M653.2 214.1h0M656.5 208.1h0M604.0 159.3h0M529.9 225.6h0M584.0 185.9h0M587.0 167.4h0M657.9 194.8h0M625.9 190.9h0M627.9 212.1h0M643.5 194.6h0M552.0 199.8h0M655.7 156.0h0M620.9 164.0h0M609.1 155.5h0M624.4 147.3h0M610.2 203.9h0M646.3 146.8h0M621.6 203.3h0M632.3 163.6h0M637.6 196.9h0M640.2 172.2h0M624.6 220.6h0M584.6 160.2h0M624.8 167.2h0M549.6 188.6h0M637.1 211.9h0M517.0 173.2h0M654.3 185.1h0M658.6 215.1h0M647.3 177.2h0M633.7 162.8h0M659.3 148.4h0M631.9 210.2h0M614.5 157.9h0M581.4 202.4h0M627.9 154.7h0M601.2 151.8h0M614.6 171.5h0M577.5 169.0h0M605.7 190.9h0M646.9 175.6h0M648.2 186.1h0M653.8 216.2h0M630.7 212.2h0M503.9 168.1h0M640.6 166.4h0M652.6 215.1h0M595.3 167.6h0M637.3 210.2h0M633.6 176.9h0M614.1 161.6h0M600.1 191.9h0M620.4 170.6h0M588.4 187.6h0M549.7 186.8h0M659.7 191.8h0M642.8 152.6h0M546.4 153.3h0M576.4 187.2h0M551.3 160.4h0M554.2 195.9h0M618.9 181.8h0M644.1 171.2h0M651.0 185.6h0M611.8 148.3h0M601.3 157.9h0M562.8 176.8h0M609.4 169.8h0M557.7 223.8h0M641.1 225.0h0M605.3 161.8h0M608.3 162.7h0M644.7 150.8h0M640.0 148.7h0M628.0 215.0h0M605.1 194.8h0M640.9 222.8h0M543.9 171.0h0M563.9 180.6h0M614.4 178.7h0M532.0 185.0h0M611.7 156.4h0M619.2 167.6h0M590.3 175.0h0M582.6 210.3h0M619.3 189.4h0M618.2 158.4h0M562.6 168.7h0M656.2 173.3h0M622.3 170.9h0M563.0 192.4h0M657.1 200.0h0M530.6 175.9h0M659.8 182.8h0M657.0 184.0h0M643.0 200.0h0M545.2 169.0h0M574.0 175.6h0M582.3 169.4h0M591.8 182.1h0M658.3 155.2h0M635.0 159.2h0M586.3 188.8h0M544.5 165.0h0M608.6 188.8h0M627.8 166.8h0M575.0 168.9h0M602.8 205.3h0M583.9 166.9h0M495.5 168.5h0M572.3 181.8h0M533.4 173.0h0M625.4 179.2h0M611.4 228.2h0M638.9 151.8h0M519.3 202.1h0M569.7 174.1h0M649.7 174.4h0M604.3 193.5h0M582.8 192.3h0M646.5 211.7h0M596.0 184.2h0M588.3 219.4h0M657.7 205.2h0M627.1 220.1h0M652.6 163.5h0M590.9 183.2h0M566.8 168.8h0M608.2 183.3h0M656.7 143.8h0M575.9 186.6h0M617.4 162.8h0M565.6 205.8h0M632.2 196.7h0M596.9 166.4h0M656.0 136.9h0M654.7 146.3h0M653.0 197.4h0M535.0 184.3h0M522.1 173.6h0M545.2 214.0h0M513.6 189.9h0M549.0 167.6h0M606.9 200.5h0M643.2 154.7h0M575.5 169.3h0M615.9 147.8h0M660.0 167.4h0M659.6 158.4h0M586.7 227.9h0M529.9 177.9h0M645.8 177.1h0M606.5 210.4h0M631.7 146.8h0M639.4 177.0h0M633.1 178.6h0M584.8 196.2h0M624.1 180.5h0M546.4 191.4h0M562.3 168.7h0M568.7 193.1h0M628.2 219.4h0M528.0 166.5h0M630.1 180.4h0M629.7 169.3h0M587.8 207.4h0M634.6 169.2h0M612.6 172.4h0M548.9 173.2h0M627.4 183.1h0M553.0 186.9h0M653.8 188.7h0M567.3 215.9h0M515.5 229.8h0M645.6 160.3h0M565.6 212.0h0M650.9 146.5h0M528.0 173.4h0M649.2 213.8h0M650.2 154.6h0M616.5 176.5h0M607.4 188.9h0M573.0 188.4h0M635.4 173.9h0M557.0 162.9h0M593.1 199.0h0M522.3 170.9h0M611.5 165.4h0M606.0 197.7h0M650.5 226.5h0M637.9 184.7h0M604.7 180.1h0M658.0 147.2h0M637.8 153.9h0M642.6 206.7h0M589.2 182.1h0M514.4 202.1h0M657.1 218.2h0M576.2 176.4h0M615.2 197.0h0M580.8 204.4h0M596.8 168.5h0M626.2 152.2h0M638.3 208.0h0M652.6 146.7h0M644.7 157.7h0M567.0 156.3h0M660.5 185.5h0M592.4 203.6h0M613.0 209.6h0M529.2 169.7h0M599.6 153.3h0M551.4 228.2h0M647.8 140.1h0M629.9 187.9h0M474.2 163.3h0M564.4 210.6h0M596.7 203.2h0M644.5 186.3h0M570.8 188.2h0M627.2 194.4h0M506.0 171.6h0M600.2 204.5h0M640.6 178.1h0M519.9 186.4h0M626.7 183.6h0M658.8 204.3h0M620.3 191.3h0M610.9 197.0h0M651.5 202.8h0M579.8 175.6h0M504.8 173.6h0M637.0 151.6h0M611.8 188.5h0M566.5 180.3h0M635.4 194.4h0M592.7 179.6h0M632.7 220.0h0M557.1 171.2h0M572.4 175.3h0M637.7 196.7h0M621.3 176.0h0M558.3 174.9h0M660.3 202.4h0M617.1 160.4h0M635.6 178.7h0M635.8 186.4h0M603.6 176.2h0M638.7 188.1h0M570.1 176.5h0M658.2 207.2h0M649.5 194.9h0M563.1 189.9h0M653.1 155.6h0M650.7 184.4h0M630.4 145.3h0M634.0 178.5h0M581.0 173.5h0M614.8 188.4h0M572.6 156.8h0M643.4 214.9h0M644.8 169.8h0M630.8 145.5h0M567.8 195.0h0M648.5 175.8h0M635.8 149.4h0M633.0 196.1h0M635.7 181.8h0M620.1 161.1h0M603.1 161.1h0M604.2 181.4h0M610.5 152.7h0M596.8 155.7h0M563.8 176.5h0M525.5 206.5h0M623.8 159.7h0M592.1 189.6h0M643.4 183.0h0M619.7 204.0h0M627.4 204.4h0M637.6 193.9h0M651.7 210.3h0M604.2 229.0h0M654.2 174.2h0M611.1 184.5h0M547.7 168.5h0M635.2 204.8h0M613.1 215.4h0M652.9 178.3h0M634.1 194.9h0M577.4 212.3h0M643.7 165.4h0M649.4 227.2h0M641.3 198.6h0M629.4 200.8h0M571.0 176.1h0M640.7 147.0h0M574.6 172.1h0M574.5 162.1h0M636.2 149.0h0M638.1 196.8h0M616.5 185.1h0M621.3 179.7h0M627.8 194.7h0M621.7 201.7h0M581.9 179.0h0M496.9 172.1h0M560.0 171.6h0M620.0 175.0h0M639.9 177.7h0M596.5 176.0h0M620.8 202.8h0M659.1 163.9h0M544.8 188.6h0M633.2 185.1h0M560.9 180.2h0M645.8 153.4h0M582.4 181.4h0M651.5 163.3h0M616.8 197.4h0M601.2 194.0h0M653.4 165.8h0M593.2 176.3h0M577.6 184.1h0M629.6 178.6h0M646.8 215.9h0M613.6 188.7h0M616.1 208.4h0M647.1 169.1h0M611.6 229.2h0M615.1 182.1h0M588.8 180.5h0M637.3 181.9h0M562.9 179.4h0M653.9 191.9h0M637.1 206.5h0M621.6 174.2h0M648.5 171.5h0M619.6 175.9h0M649.9 136.5h0M628.2 206.3h0M648.5 216.8h0M633.3 217.5h0M552.2 180.6h0M578.4 184.8h0M540.0 173.1h0M612.7 229.1h0M620.8 149.9h0M519.6 201.9h0M624.6 180.8h0M639.0 218.3h0M610.1 191.9h0M574.1 177.0h0M641.3 224.4h0M507.2 171.5h0M640.1 194.0h0M620.6 199.3h0M637.6 184.1h0M629.0 188.6h0M606.8 190.0h0M637.2 163.5h0M639.6 189.0h0M576.7 227.2h0M647.1 159.5h0M555.4 229.5h0M609.3 198.0h0M637.5 229.5h0M548.4 213.2h0M540.7 166.1h0M565.1 188.2h0M654.4 149.6h0M499.2 176.6h0M661.5 228.1h0M581.9 162.7h0M546.5 181.6h0M596.6 193.7h0M622.6 164.3h0M550.1 164.7h0M627.2 160.4h0M609.1 155.5h0M614.6 176.3h0M614.4 149.6h0M521.6 175.6h0M619.8 213.0h0M551.7 174.2h0M633.0 166.9h0M606.3 222.4h0M587.5 169.4h0M614.7 210.5h0M569.0 197.8h0M616.6 163.2h0M631.5 209.8h0M657.5 158.5h0M632.3 190.2h0M582.7 186.3h0M607.3 183.4h0M649.6 174.0h0M609.1 154.4h0M644.8 202.8h0M630.6 197.3h0M648.1 229.8h0M565.0 184.1h0M591.9 206.5h0M609.2 155.6h0M566.6 201.4h0M621.5 180.0h0M559.1 161.5h0M633.3 150.3h0M613.3 179.4h0M596.3 190.6h0M619.0 170.6h0M651.2 207.9h0M656.7 175.6h0M620.1 205.0h0M507.8 169.2h0M544.8 171.4h0M541.0 171.4h0M644.7 171.6h0M658.0 170.4h0M579.4 190.5h0M630.8 204.6h0M613.5 211.3h0M616.7 165.5h0M643.2 180.5h0M509.6 177.3h0M632.8 201.4h0M637.1 168.7h0M551.5 166.3h0M561.0 188.9h0M568.3 185.8h0M587.9 161.4h0M577.6 166.7h0M529.0 224.5h0M631.2 158.1h0M613.5 149.6h0M551.6 173.0h0M640.4 206.1h0M633.6 200.0h0M554.7 158.6h0M606.5 197.6h0" stroke="#00aa00" stroke-width="3.3" stroke-linecap="round" fill="none"/>
<polyline points="124.0,153.4 171.2,158.2 202.0,155.4 235.5,153.4 256.7,156.0 278.6,163.5 303.9,224.6 326.9,231.6 353.2,235.1 372.9,235.5 410.0,232.3 484.4,225.7 550.0,220.9 644.2,212.5" fill="none" stroke="#996633" stroke-width="2.6" stroke-linejoin="round" stroke-linecap="butt"/>
<polyline points="249.1,140.3 271.3,158.5 280.0,163.9 291.8,169.1 310.0,176.4 322.6,180.8 346.6,185.6 379.5,188.5 410.0,187.4 484.4,181.5 550.0,176.1 661.9,166.2" fill="none" stroke="#000" stroke-width="2.6" stroke-linejoin="round" stroke-linecap="butt"/>
</g>
<rect x="91.2" y="10.6" width="581.5" height="359.09999999999997" fill="none" stroke="#000" stroke-width="1.6"/>
<path d="M105.40 369.7v-6M105.40 10.6v6M234.85 369.7v-6M234.85 10.6v6M290.60 369.7v-6M290.60 10.6v6M420.05 369.7v-6M420.05 10.6v6M475.80 369.7v-6M475.80 10.6v6M605.25 369.7v-6M605.25 10.6v6M661.00 369.7v-6M661.00 10.6v6M96.93 369.7v-3.2M96.93 10.6v3.2M161.15 369.7v-3.2M161.15 10.6v3.2M193.76 369.7v-3.2M193.76 10.6v3.2M216.90 369.7v-3.2M216.90 10.6v3.2M249.51 369.7v-3.2M249.51 10.6v3.2M261.91 369.7v-3.2M261.91 10.6v3.2M272.65 369.7v-3.2M272.65 10.6v3.2M282.13 369.7v-3.2M282.13 10.6v3.2M346.35 369.7v-3.2M346.35 10.6v3.2M378.96 369.7v-3.2M378.96 10.6v3.2M402.10 369.7v-3.2M402.10 10.6v3.2M434.71 369.7v-3.2M434.71 10.6v3.2M447.11 369.7v-3.2M447.11 10.6v3.2M457.85 369.7v-3.2M457.85 10.6v3.2M467.33 369.7v-3.2M467.33 10.6v3.2M531.55 369.7v-3.2M531.55 10.6v3.2M564.16 369.7v-3.2M564.16 10.6v3.2M587.30 369.7v-3.2M587.30 10.6v3.2M619.91 369.7v-3.2M619.91 10.6v3.2M632.31 369.7v-3.2M632.31 10.6v3.2M643.05 369.7v-3.2M643.05 10.6v3.2M652.53 369.7v-3.2M652.53 10.6v3.2M91.2 10.70h6M672.7 10.70h-6M91.2 27.81h3.2M672.7 27.81h-3.2M91.2 44.91h3.2M672.7 44.91h-3.2M91.2 62.02h3.2M672.7 62.02h-3.2M91.2 79.13h3.2M672.7 79.13h-3.2M91.2 96.23h6M672.7 96.23h-6M91.2 113.34h3.2M672.7 113.34h-3.2M91.2 130.45h3.2M672.7 130.45h-3.2M91.2 147.56h3.2M672.7 147.56h-3.2M91.2 164.66h3.2M672.7 164.66h-3.2M91.2 181.77h6M672.7 181.77h-6M91.2 198.88h3.2M672.7 198.88h-3.2M91.2 215.98h3.2M672.7 215.98h-3.2M91.2 233.09h3.2M672.7 233.09h-3.2M91.2 250.20h3.2M672.7 250.20h-3.2M91.2 267.31h6M672.7 267.31h-6M91.2 284.41h3.2M672.7 284.41h-3.2M91.2 301.52h3.2M672.7 301.52h-3.2M91.2 318.63h3.2M672.7 318.63h-3.2M91.2 335.73h3.2M672.7 335.73h-3.2M91.2 352.84h6M672.7 352.84h-6M91.2 369.95h3.2M672.7 369.95h-3.2" stroke="#000" stroke-width="1.4" fill="none"/>
<text x="105.4" y="391.9" font-family="&apos;Liberation Serif&apos;, serif" stroke="#000" stroke-width="0.35" font-size="24.8" text-anchor="middle">1</text>
<text x="234.8" y="391.9" font-family="&apos;Liberation Serif&apos;, serif" stroke="#000" stroke-width="0.35" font-size="24.8" text-anchor="middle">5</text>
<text x="290.6" y="391.9" font-family="&apos;Liberation Serif&apos;, serif" stroke="#000" stroke-width="0.35" font-size="24.8" text-anchor="middle">10</text>
<text x="420.0" y="391.9" font-family="&apos;Liberation Serif&apos;, serif" stroke="#000" stroke-width="0.35" font-size="24.8" text-anchor="middle">50</text>
<text x="475.8" y="391.9" font-family="&apos;Liberation Serif&apos;, serif" stroke="#000" stroke-width="0.35" font-size="24.8" text-anchor="middle">100</text>
<text x="605.2" y="391.9" font-family="&apos;Liberation Serif&apos;, serif" stroke="#000" stroke-width="0.35" font-size="24.8" text-anchor="middle">500</text>
<text x="661.0" y="391.9" font-family="&apos;Liberation Serif&apos;, serif" stroke="#000" stroke-width="0.35" font-size="24.8" text-anchor="middle">1000</text>
<text x="86.6" y="16.3" font-family="&apos;Liberation Serif&apos;, serif" stroke="#000" stroke-width="0.35" font-size="24.8" text-anchor="end">1</text>
<text x="85.8" y="103.8" font-family="&apos;Liberation Serif&apos;, serif" stroke="#000" stroke-width="0.35" font-size="24.8" text-anchor="end">10<tspan font-size="18.2" dy="-7.6">−</tspan><tspan font-size="18.2" dy="-1.3">5</tspan></text>
<text x="85.8" y="189.4" font-family="&apos;Liberation Serif&apos;, serif" stroke="#000" stroke-width="0.35" font-size="24.8" text-anchor="end">10<tspan font-size="18.2" dy="-7.6">−</tspan><tspan font-size="18.2" dy="-1.3">10</tspan></text>
<text x="85.8" y="274.9" font-family="&apos;Liberation Serif&apos;, serif" stroke="#000" stroke-width="0.35" font-size="24.8" text-anchor="end">10<tspan font-size="18.2" dy="-7.6">−</tspan><tspan font-size="18.2" dy="-1.3">15</tspan></text>
<text x="85.8" y="360.4" font-family="&apos;Liberation Serif&apos;, serif" stroke="#000" stroke-width="0.35" font-size="24.8" text-anchor="end">10<tspan font-size="18.2" dy="-7.6">−</tspan><tspan font-size="18.2" dy="-1.3">20</tspan></text>
<text x="332.6" y="425.2" font-family="&apos;Liberation Serif&apos;, serif" stroke="#000" stroke-width="0.35" font-size="24.8" font-style="italic">m</text>
<text x="349.5" y="428.3" font-family="&apos;Liberation Serif&apos;, serif" stroke="#000" stroke-width="0.35" font-size="18.6" font-style="italic">S</text>
<text x="368.6" y="425.2" font-family="&apos;Liberation Serif&apos;, serif" stroke="#000" stroke-width="0.35" font-size="24" textLength="61" lengthAdjust="spacingAndGlyphs">[GeV]</text>
<g transform="rotate(-90)"><text x="-235.5" y="17.3" font-family="&apos;Liberation Serif&apos;, serif" stroke="#000" stroke-width="0.35" font-size="24.8" font-style="italic" transform="translate(-235.5,17.3) scale(1.25,1) translate(235.5,-17.3)">σ</text><text x="-218.6" y="20.8" font-family="&apos;Liberation Serif&apos;, serif" stroke="#000" stroke-width="0.35" font-size="18.6">DD</text><text x="-186" y="17.3" font-family="&apos;Liberation Serif&apos;, serif" stroke="#000" stroke-width="0.35" font-size="24.8">[pb]</text></g>
<rect x="138.3" y="221.5" width="12.0" height="12.0" fill="#ff0000" stroke="#c00000" stroke-width="0.9"/>
<text x="158.5" y="236.9" font-family="&apos;Liberation Serif&apos;, serif" stroke="#000" stroke-width="0.35" font-size="24.8">Rejected</text>
<rect x="138.3" y="254.7" width="12.0" height="12.0" fill="#00aa00" stroke="#007700" stroke-width="0.9"/>
<text x="158.5" y="270.1" font-family="&apos;Liberation Serif&apos;, serif" stroke="#000" stroke-width="0.35" font-size="24.8">Allowed</text>
<rect x="138.3" y="287.8" width="12.0" height="12.0" fill="#000000" stroke="#000000" stroke-width="0.9"/>
<text x="158.5" y="303.2" font-family="&apos;Liberation Serif&apos;, serif" stroke="#000" stroke-width="0.35" font-size="24.8">XENON1T Limit</text>
<rect x="138.3" y="321.0" width="12.0" height="12.0" fill="#996633" stroke="#704a25" stroke-width="0.9"/>
<text x="158.5" y="336.4" font-family="&apos;Liberation Serif&apos;, serif" stroke="#000" stroke-width="0.35" font-size="24.8">Neutrino Floor</text>
</svg></body></html>
